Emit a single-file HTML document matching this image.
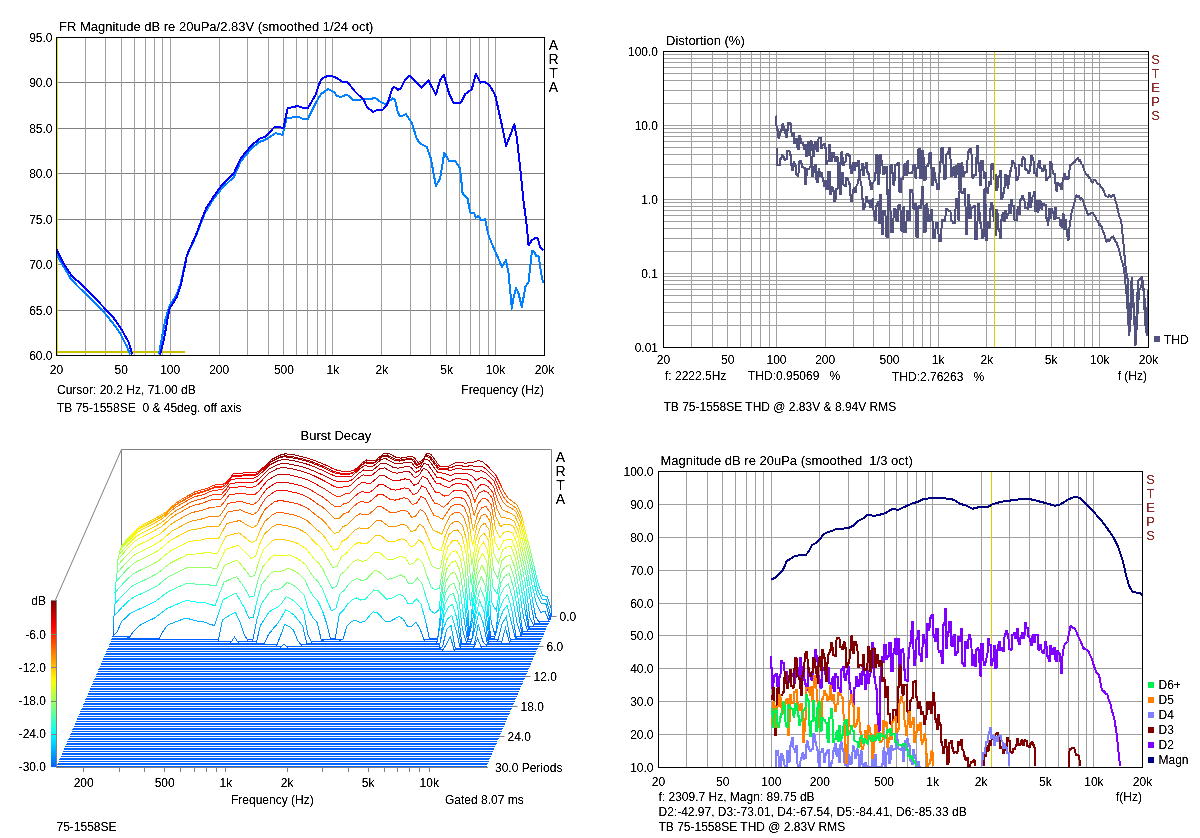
<!DOCTYPE html>
<html><head><meta charset="utf-8"><title>ARTA measurements</title>
<style>html,body{margin:0;padding:0;background:#fff;width:1200px;height:838px;overflow:hidden}svg{display:block}</style>
</head><body>
<svg width="1200" height="838" viewBox="0 0 1200 838" font-family="Liberation Sans, Arial, sans-serif" font-size="12">
<defs><filter id="tb" filterUnits="userSpaceOnUse" x="0" y="0" width="1200" height="838"><feComponentTransfer><feFuncA type="linear" slope="2.2" intercept="-0.45"/></feComponentTransfer></filter></defs>
<rect width="1200" height="838" fill="#fff"/>
<path d="M57 82.5H544M57 128.5H544M57 173.5H544M57 219.5H544M57 264.5H544M57 310.5H544" stroke="#808080" fill="none"/>
<path d="M85.5 38V355M105.5 38V355M121.5 38V355M134.5 38V355M145.5 38V355M154.5 38V355M162.5 38V355M170.5 38V355M219.5 38V355M247.5 38V355M268.5 38V355M283.5 38V355M296.5 38V355M307.5 38V355M317.5 38V355M325.5 38V355M332.5 38V355M381.5 38V355M410.5 38V355M430.5 38V355M446.5 38V355M459.5 38V355M470.5 38V355M479.5 38V355M488.5 38V355M495.5 38V355" stroke="#a0a0a0" fill="none"/>
<path d="M57.5 38V355" stroke="#e8e000"/>
<path d="M57 352H185" stroke="#c8c000" stroke-width="2"/>
<g fill="none" stroke-width="2" stroke-linejoin="round" shape-rendering="crispEdges">
<polyline points="56.4,254.3 63.6,266.5 70.7,278.6 77.9,286.5 89.3,297.3 102.2,310.1 112.2,322.3 120.1,333 126.6,345.9 130.1,354.5" stroke="#0080ff"/>
<polyline points="158.8,354.5 165.2,320.1 169.5,305.8 176,296 180.5,284 184.5,266 186.5,257 189,251 196,236 204.4,214 213.5,198.7 222.6,187.6 233.8,177 240.9,161.2 251,149 259.2,141.9 265.2,139.9 275.4,133.2 282.5,134.8 286.6,118.6 297.7,116.5 302.8,119 307.9,119 315,104.4 318,99 321,94 324,92 328,89 331,90.5 334,92 337,96 341,97 346,94.8 349,96 353,100.5 357,100 363,99.2 371,99 375,97.8 380,101.5 385,104 388,102.5 392.5,98.2 395,100 398,113 400,116 403,115.5 406,114 409,119 411.7,122.6 416.7,138.5 420,143.5 426.7,146.9 430.9,158.6 435.9,186.1 440.1,178.6 444.3,152.7 449.3,161.1 455.1,160.6 460.1,168.6 462.6,193.4 467.6,198.4 470.1,212.6 474.3,213.4 475.9,217.6 478.4,215.9 481,220.1 485.1,219.3 488.5,235.2 493.5,247.7 497.7,256.9 501.9,266.9 506,260.2 508.5,272.8 511.9,308.7 513.6,297 516.1,287.8 518.6,293.7 521.9,307 525.3,287 528.6,282 531.9,251 534.5,251.9 536.1,256.1 538.6,256.1 542,278.6 543.6,282.8" stroke="#0080ff"/>
<polyline points="56.4,249.3 63.6,263.6 72.2,276.5 80,282.9 92.2,295.1 103.7,307.3 112.2,315.9 121.5,329.4 128.7,342.3 132.3,354.5" stroke="#0000ff"/>
<polyline points="160.2,354.5 163.8,340.2 168.1,315.9 169.5,308.7 176.7,297.3 181,284.4 185.2,264.3 186.7,255.7 189.1,250.1 196.2,234.3 202.3,218 206.4,207.9 213.5,196.7 221.6,185.5 233.8,173.4 240.9,158.1 251,146 259.2,138.9 265.2,136.8 274.4,127.1 283.5,127.7 287.6,108.4 297.7,106 303.8,108 307.9,108 316,94.2 318,87 321,80 324,77.5 328,75.8 331,76 335,77 338,79 342,81.5 347,82 351,86.5 355,91.5 359,95.5 363,98.5 367,107 373,112 378,109.5 383,109.5 387,105 390,96 392.5,88 394.5,87 398,90 401,88 405,80 410,75.5 414.2,80 421.7,87.6 428.4,80.4 435.9,94.7 440.1,80 443.8,75 449.3,94.2 453.4,102.6 461,102.6 465.1,94.2 471.8,89.2 476,73.7 480.2,82.6 484.4,81.7 489.4,85.1 495.2,95.1 501.9,125.2 506.1,146 514.4,124.3 516.9,138.5 520.3,168.6 523.6,201.7 526.1,220.1 528.6,245.2 531.9,240.2 536.1,237.7 537.8,238.5 540.3,247.7 543.6,250.2" stroke="#0000ff"/>
</g>
<rect x="56.5" y="37.5" width="488" height="318" fill="none" stroke="#000"/>
<g filter="url(#tb)"><text x="59" y="31" font-size="13">FR Magnitude dB re 20uPa/2.83V (smoothed 1/24 oct)</text><text x="52.5" y="42" text-anchor="end">95.0</text><text x="52.5" y="87.4" text-anchor="end">90.0</text><text x="52.5" y="132.9" text-anchor="end">85.0</text><text x="52.5" y="178.3" text-anchor="end">80.0</text><text x="52.5" y="223.7" text-anchor="end">75.0</text><text x="52.5" y="269.1" text-anchor="end">70.0</text><text x="52.5" y="314.6" text-anchor="end">65.0</text><text x="52.5" y="360" text-anchor="end">60.0</text><text x="56.5" y="374" text-anchor="middle">20</text><text x="121.2" y="374" text-anchor="middle">50</text><text x="170.2" y="374" text-anchor="middle">100</text><text x="219.2" y="374" text-anchor="middle">200</text><text x="283.9" y="374" text-anchor="middle">500</text><text x="332.9" y="374" text-anchor="middle">1k</text><text x="381.8" y="374" text-anchor="middle">2k</text><text x="446.6" y="374" text-anchor="middle">5k</text><text x="495.5" y="374" text-anchor="middle">10k</text><text x="544.5" y="374" text-anchor="middle">20k</text><text x="57" y="394">Cursor: 20.2 Hz, 71.00 dB</text><text x="57" y="412">TB 75-1558SE  0 &amp; 45deg. off axis</text><text x="544" y="394" text-anchor="end">Frequency (Hz)</text><text x="553.5" y="49.8" text-anchor="middle" font-size="14">A</text><text x="553.5" y="63.8" text-anchor="middle" font-size="14">R</text><text x="553.5" y="77.8" text-anchor="middle" font-size="14">T</text><text x="553.5" y="91.8" text-anchor="middle" font-size="14">A</text></g>
<path d="M691.5 52V347M712.5 52V347M727.5 52V347M740.5 52V347M751.5 52V347M760.5 52V347M769.5 52V347M776.5 52V347M825.5 52V347M853.5 52V347M873.5 52V347M889.5 52V347M902.5 52V347M913.5 52V347M922.5 52V347M930.5 52V347M938.5 52V347M986.5 52V347M1015.5 52V347M1035.5 52V347M1051.5 52V347M1063.5 52V347M1074.5 52V347M1084.5 52V347M1092.5 52V347M1099.5 52V347M664 325.5H1148M664 312.5H1148M664 302.5H1148M664 295.5H1148M664 289.5H1148M664 284.5H1148M664 280.5H1148M664 276.5H1148M664 273.5H1148M664 251.5H1148M664 238.5H1148M664 228.5H1148M664 221.5H1148M664 215.5H1148M664 210.5H1148M664 206.5H1148M664 202.5H1148M664 199.5H1148M664 177.5H1148M664 164.5H1148M664 154.5H1148M664 147.5H1148M664 141.5H1148M664 136.5H1148M664 132.5H1148M664 128.5H1148M664 125.5H1148M664 103.5H1148M664 90.5H1148M664 80.5H1148M664 73.5H1148M664 67.5H1148M664 62.5H1148M664 58.5H1148M664 54.5H1148" stroke="#a0a0a0" fill="none"/>
<g fill="none" stroke="#52527f" stroke-width="2" stroke-linejoin="miter" stroke-miterlimit="2" shape-rendering="crispEdges">
<polyline points="775.9,149.4 776.7,149.4 777.2,165.1 778.4,165.1 779.2,165.1 780,165.1 780.5,158.6 781.3,158.6 781.8,155.4 782.6,155.4 783.1,157.3 783.9,157.3 784.5,160 785.3,160 785.8,158.6 786.6,158.6 787.1,151 787.9,151 788.4,151.3 789.5,151.3 790.3,154.6 790.7,154.6 791,165.1 791.8,165.1 792.3,170.4 793.1,170.4 793.6,161.6 794.4,161.6 794.9,166.4 795.7,166.4 796.2,173.5 797.1,173.5 797.6,176.3 798.4,176.3 798.9,161.5 799.7,161.5 800.2,160.5 801.2,160.5 801.9,167.2 802.8,167.2 803.5,167.8 804.6,167.8 805.4,184.2 806.2,184.2 806.8,169 807.6,169 808.1,169.1 809.1,169.1 809.7,167.3 810.7,167.3 811.3,157.3 811.7,157.3 812,175.6 812.8,175.6 813.3,172.2 814.1,172.2 814.6,165.1 815.8,165.1 816.6,182.2 817.8,182.2 818.6,169.1 819.4,169.1 819.9,175.6 820.7,175.6 821.2,172.9 822,172.9 822.5,178.3 823.3,178.3 823.8,186.4 824.6,186.4 825.1,180.9 825.9,180.9 826.4,188.8 827.6,188.8 828.4,171.7 829.6,171.7 830.4,194 831.2,194 831.7,187.4 832.5,187.4 833,191.4 833.8,191.4 834.3,200.6 835.5,200.6 836.3,188.8 837.5,188.8 838.3,162.5 839.4,162.5 840.2,194 841,194 841.5,173 842.7,173 843.5,184.8 844.3,184.8 844.8,185.5 845.6,185.5 846.1,178.3 846.9,178.3 847.5,178.9 848.3,178.9 848.8,183.5 849.6,183.5 850.1,195 850.9,195 851.4,200.6 852.2,200.6 852.7,189.7 853.5,189.7 854,187.5 854.8,187.5 855.3,191.5 856.1,191.5 856.6,184.8 857.4,184.8 857.9,180.2 858.7,180.2 859.3,176.5 860.1,176.5 860.6,181.5 861.4,181.5 861.9,199.3 862.7,199.3 863.2,208.5 864,208.5 864.5,207.1 865.3,207.1 865.8,197.3 866.6,197.3 867.1,201.9 867.9,201.9 868.5,201.1 869.3,201.1 869.8,207.1 870.6,207.1 871.1,200.8 871.9,200.8 872.4,199.3 873.2,199.3 873.7,216.1 874.5,216.1 875,220 875.8,220 876.3,206.2 877.1,206.2 877.6,201.9 878.4,201.9 879,223.4 879.6,223.4 880,194.5 881.2,194.5 882,234.3 882.9,234.3 883.5,211 885.3,211 886.5,236.5 887.7,236.5 888.5,189.6 890,189.6 891,231.5 892.8,231.5 894,208.9 895.5,208.9 896.5,220.8 897.7,220.8 898.5,205.4 900.3,205.4 901.5,231 902.7,231 903.5,207.1 904.1,207.1 904.5,232.2 906,232.2 907,211 908.2,211 909,219.8 909.9,219.8 910.5,189.6 912.3,189.6 913.5,209.2 914.4,209.2 915,204.2 915.9,204.2 916.5,236.5 917.7,236.5 918.5,206.3 919.4,206.3 920,207.5 921.2,207.5 922,187.3 923.2,187.3 924,232.1 925.5,232.1 926.5,204.1 927.4,204.1 928,221.4 929.8,221.4 931,209.8 932.2,209.8 933,238.1 934.8,238.1 936,223.4 937.8,223.4 939,240.5 940.8,240.5 942,219.6 943.2,219.6 944,220.6 945.2,220.6 946,209.1 947.5,209.1 948.5,210.5 950.3,210.5 951.5,220.5 952.4,220.5 953,222.6 954.8,222.6 956,198.9 956.9,198.9 957.5,205.4 958.1,205.4 958.5,219.6 959.1,219.6 959.5,191.9 961,191.9 962,192.7 963.2,192.7 964,188.5 965.2,188.5 966,234.4 967.2,234.4 968,194.9 969.2,194.9 970,217.5 970.6,217.5 971,208 972.5,208 973.5,206.2 974.7,206.2 975.5,239.2 977,239.2 978,203.8 979.2,203.8 980,223.1 981.2,223.1 982,238.1 983.5,238.1 984.5,189.3 984.8,189.3 985,205.2 985.8,205.2 986.3,240.3 987,240.3 987.5,222.2 988.3,222.2 988.8,228.4 989.5,228.4 990,208.5 990.8,208.5 991.3,202.7 992.4,202.7 993.1,215.7 994.3,215.7 995,235.3 995.8,235.3 996.3,210.2 997.4,210.2 998.1,229.1 999.3,229.1 1000,237.8 1000.8,237.8 1001.3,219.9 1002.1,219.9 1002.6,212.7 1003.4,212.7 1003.9,221.1 1004.6,221.1 1005.1,210.5 1005.9,210.5 1006.4,218.3 1007.1,218.3 1007.6,215.2 1008.4,215.2 1008.9,204.7 1009.6,204.7 1010.1,213.4 1010.9,213.4 1011.4,199.7 1012.1,199.7 1012.6,206.4 1013.7,206.4 1014.5,219.6 1015.6,219.6 1016.3,220.2 1017.1,220.2 1017.6,207 1018.3,207 1018.8,213.6 1019.6,213.6 1020.1,200.2 1021.1,200.2 1021.8,196.2 1022.8,196.2 1023.4,199.2 1024.4,199.2 1025.1,207.7 1025.8,207.7 1026.3,208.1 1027.1,208.1 1027.6,209.3 1028.3,209.3 1028.8,193.4 1029.6,193.4 1030.1,207.2 1030.8,207.2 1031.3,202.1 1032.1,202.1 1032.6,196.4 1033.4,196.4 1033.9,192.1 1034.6,192.1 1035.2,211.3 1035.9,211.3 1036.4,201 1037.2,201 1037.7,211.5 1038.5,211.5 1039,201 1039.7,201 1040.2,202.3 1041,202.3 1041.5,208.7 1042.2,208.7 1042.7,203.9 1043.8,203.9 1044.6,205.3 1045.7,205.3 1046.4,217.7 1047.2,217.7 1047.7,225 1048.4,225 1048.9,208.9 1049.7,208.9 1050.2,218.3 1050.9,218.3 1051.4,209.4 1052.2,209.4 1052.7,212.7 1053.5,212.7 1054,219.2 1054.7,219.2 1055.2,208.2 1056,208.2 1056.5,217.7 1057.6,217.7 1058.3,218.4 1059.5,218.4 1060.2,225.3 1061,225.3 1061.5,227 1062.2,227 1062.7,213.9 1063.5,213.9 1064,228.8 1064.7,228.8 1065.2,220.2 1066,220.2 1066.5,229.9 1067.2,229.9 1067.7,240.3 1068.5,240.3 1069,230.4 1070.2,222.7 1071.5,212.7 1072.8,207.5 1074,204.8 1075.2,198.9 1076.5,195.2 1077.8,196.6 1079,196.3 1080.3,199.5 1081.5,198.1 1082.8,200.2 1084,203.6 1085.3,208.2 1086.5,210.5 1087.8,215.2 1089,213.9 1090.3,213.6 1091.5,212.8 1092.8,212.7 1094.1,214.9 1095.3,216.5 1096.6,220.2 1097.8,220.8 1099.1,224.8 1100.3,224.5 1101.6,226.5 1102.8,231.2 1104.1,233.6 1105.3,238.8 1106.6,241.6 1107.9,240.1 1109.1,240.7 1110.4,239.4 1111.6,236.8 1112.9,236.5 1114.8,240.2 1116.6,242.8 1117.9,246.5 1119.1,250 1120.4,255.3 1121.7,260.7 1122.9,264.5 1124.2,270.4 1125.5,284.4 1126.7,295.5 1128,316.5 1129.2,335.6 1131.1,313.6 1132.9,290.5 1134.2,317.1 1135.5,345.6 1137.3,317 1139.2,290.5 1140.5,288.2 1141.7,285 1143,280.4 1144.2,304.5 1145.5,325.6 1146.8,327.4 1148,330.6"/>
<polyline points="775.9,115.9 776.3,115.9 776.6,129.7 777.7,129.7 778.5,138.2 779.3,138.2 779.8,132.3 780.6,132.3 781.2,129.7 782,129.7 782.5,124.1 783.3,124.1 783.8,129.7 785,129.7 785.8,136.9 786.6,136.9 787.1,129.7 787.9,129.7 788.4,122.5 789.5,122.5 790.3,124.4 791.1,124.4 791.7,136.3 792.5,136.3 793,132.9 793.8,132.9 794.3,142.8 795.3,142.8 796,139.2 796.9,139.2 797.6,148.7 798.7,148.7 799.5,135.6 800.3,135.6 800.9,143.2 801.7,143.2 802.2,142.8 803.2,142.8 803.8,148.8 804.8,148.8 805.4,144.8 805.8,144.8 806.1,155.9 807.3,155.9 808.1,142.2 808.9,142.2 809.4,155.3 810.2,155.3 810.7,140.8 811.5,140.8 812,150.4 812.8,150.4 813.3,155.9 814.1,155.9 814.6,141.5 815.8,141.5 816.6,150.7 817.8,150.7 818.6,138.2 819.4,138.2 819.9,137.8 820.7,137.8 821.2,147.6 822,147.6 822.5,145.4 823.3,145.4 823.8,144.1 824.6,144.1 825.1,148.1 825.9,148.1 826.4,163.8 827.2,163.8 827.8,161.1 828.6,161.1 829.1,145.4 830.2,145.4 831,161.2 832.2,161.2 833,153.3 834.2,153.3 835,161.2 835.8,161.2 836.3,156.6 837.5,156.6 838.3,171.7 839.3,171.7 839.9,164.1 840.9,164.1 841.5,152 842.3,152 842.9,165.1 843.9,165.1 844.5,162.4 845.5,162.4 846.1,155.3 846.9,155.3 847.5,153.5 848.3,153.5 848.8,155.9 849.9,155.9 850.7,173 851.9,173 852.7,162.5 853.5,162.5 854,170.1 854.8,170.1 855.3,162.5 856.1,162.5 856.6,166.4 857.4,166.4 857.9,161.4 858.7,161.4 859.3,175.9 860.1,175.9 860.6,170.4 861.4,170.4 861.9,164.3 862.7,164.3 863.2,175.3 864,175.3 864.5,167.8 865.3,167.8 865.8,162.9 866.6,162.9 867.1,171.7 867.9,171.7 868.4,174.3 869.2,174.3 869.8,185.4 870.6,185.4 871.1,188.8 871.9,188.8 872.4,183.1 873.2,183.1 873.7,180.9 874.5,180.9 875,172.5 875.8,172.5 876.3,154.6 877.5,154.6 878.3,183.5 879.3,183.5 880,154.6 880.6,154.6 881,160.7 882.2,160.7 883,173.6 884.5,173.6 885.5,166.5 886.7,166.5 887.5,193.8 889.3,193.8 890.5,164.8 891.7,164.8 892.5,173.3 893.1,173.3 893.5,184.7 894.4,184.7 895,165.4 896.5,165.4 897.5,162.9 898.7,162.9 899.5,192 900.7,192 901.5,178.6 903.3,178.6 904.5,163.9 905.1,163.9 905.5,175.2 906.7,175.2 907.5,161.3 908.1,161.3 908.5,172.5 909.7,172.5 910.5,172.6 912.3,172.6 913.5,165.3 914.7,165.3 915.5,178 916.1,178 916.5,167.8 917.7,167.8 918.5,149.2 919.7,149.2 920.5,178.1 921.7,178.1 922.5,150.8 923.4,150.8 924,179.7 925.5,179.7 926.5,166.3 927.7,166.3 928.5,163.4 929.1,163.4 929.5,152.7 931,152.7 932,185.2 932.6,185.2 933,167.8 934.2,167.8 935,179.6 936.2,179.6 937,188.8 938.8,188.8 940,161.5 940.9,161.5 941.5,148.3 943,148.3 944,179 945.5,179 946.5,154.4 948,154.4 949,147.5 950.2,147.5 951,175.9 952.5,175.9 953.5,167.4 954.4,167.4 955,176.9 955.6,176.9 956,166.3 956.6,166.3 957,174 957.6,174 958,163.5 958.9,163.5 959.5,189.6 960.7,189.6 961.5,163.4 962.4,163.4 963,175.8 964.2,175.8 965,172.2 966.8,172.2 968,152.1 968.9,152.1 969.5,149.3 971.3,149.3 972.5,177.8 973.4,177.8 974,174.8 975.8,174.8 977,145.7 977.6,145.7 978,163 979.2,163 980,185.1 980.6,185.1 981,161.1 982.8,161.1 984,177.5 984.6,177.5 985,172.6 985.8,172.6 986.2,189.5 987,189.5 987.5,192.7 988.2,192.7 988.8,182.2 989.5,182.2 990,184.1 990.8,184.1 991.2,164.6 992,164.6 992.5,163.8 993.3,163.8 993.8,179.1 994.5,179.1 995,174.7 995.8,174.7 996.3,190.2 997.4,190.2 998.1,176.5 999.3,176.5 1000,171.3 1000.8,171.3 1001.3,198.9 1002.4,198.9 1003.1,193 1004.3,193 1005,175.1 1005.8,175.1 1006.3,176.2 1007.1,176.2 1007.6,187.6 1008.4,187.6 1008.9,176.2 1009.6,176.2 1010.1,171.3 1011.2,171.3 1012,161 1013.1,161 1013.8,162.6 1014.5,162.6 1015,167.6 1015.8,167.6 1016.3,180.1 1017.1,180.1 1017.6,179.3 1018.4,179.3 1018.9,165.1 1020,165.1 1020.8,165.5 1021.9,165.5 1022.6,157.1 1023.4,157.1 1023.9,158.6 1024.6,158.6 1025.1,169.2 1025.9,169.2 1026.4,170.1 1027.5,170.1 1028.2,173 1029.4,173 1030.1,165.1 1030.8,165.1 1031.3,155.6 1032.1,155.6 1032.6,157.6 1033.4,157.6 1033.9,172.7 1034.7,172.7 1035.2,172.6 1036,172.6 1036.5,176.2 1037.2,176.2 1037.7,164 1038.5,164 1039,161 1039.7,161 1040.2,167.6 1041.3,167.6 1042.1,170.9 1043.2,170.9 1043.9,166.3 1044.7,166.3 1045.2,169.7 1045.9,169.7 1046.4,180.1 1047.2,180.1 1047.7,178.2 1048.4,178.2 1048.9,176.9 1049.7,176.9 1050.2,162 1050.9,162 1051.4,163.8 1052.2,163.8 1052.7,172.9 1053.4,172.9 1053.9,173.8 1054.7,173.8 1055.2,182.6 1056,182.6 1056.5,190.7 1057.2,190.7 1057.7,182.8 1058.5,182.8 1059,183.7 1059.7,183.7 1060.2,186.4 1061,186.4 1061.5,189.4 1062.2,189.4 1062.7,177.6 1063.5,177.6 1064,174.4 1064.7,174.4 1065.2,179 1066,179 1066.5,177.1 1067.2,177.1 1067.7,178.9 1068.5,178.9 1069,172.8 1070.3,165.1 1071.8,164.3 1073.4,162.5 1075,161.7 1076.5,158.8 1077.8,157.9 1079,161 1080.3,160.1 1081.5,164.1 1082.8,165.2 1084,169.9 1085.3,172.6 1086.5,174.9 1087.8,174.7 1089,177.9 1090.3,178.3 1091.5,181.5 1092.8,182.6 1094,179.9 1095.3,180.1 1096.6,182.4 1097.8,184.1 1099.1,183.7 1100.3,186.6 1101.6,187.6 1102.8,189.1 1104.1,191.3 1105.3,195.7 1106.6,196.4 1107.8,197 1109.1,195.3 1110.3,196.7 1111.6,197 1112.8,195.1 1114.1,195.2 1115.4,200.6 1116.6,204 1117.9,210.2 1119.2,216.4 1120.4,218.8 1121.7,225.3 1123.6,245 1125.4,265.4 1126.7,274.3 1127.9,280.4 1129.2,330.6 1130.5,302.8 1131.7,276.7 1133,296.7 1134.2,320.2 1135.5,340.6 1136.8,309.8 1138,280.4 1139.8,279.6 1141.7,276.7 1143,284.4 1144.2,293 1145.5,314.7 1146.7,335.6 1148,290.5"/>
</g>
<path d="M994.5 52V347" stroke="#d8d000"/>
<rect x="663.5" y="51.5" width="485" height="296" fill="none" stroke="#000"/>
<rect x="1154" y="336" width="6" height="6" fill="#52527f"/>
<g filter="url(#tb)"><text x="666" y="45" font-size="13">Distortion (%)</text><text x="658" y="56" text-anchor="end">100.0</text><text x="658" y="130" text-anchor="end">10.0</text><text x="658" y="204" text-anchor="end">1.0</text><text x="658" y="278" text-anchor="end">0.1</text><text x="658" y="352" text-anchor="end">0.01</text><text x="663.5" y="364" text-anchor="middle">20</text><text x="727.8" y="364" text-anchor="middle">50</text><text x="776.5" y="364" text-anchor="middle">100</text><text x="825.2" y="364" text-anchor="middle">200</text><text x="889.5" y="364" text-anchor="middle">500</text><text x="938.2" y="364" text-anchor="middle">1k</text><text x="986.8" y="364" text-anchor="middle">2k</text><text x="1051.2" y="364" text-anchor="middle">5k</text><text x="1099.8" y="364" text-anchor="middle">10k</text><text x="1148.5" y="364" text-anchor="middle">20k</text><text x="665" y="380">f: 2222.5Hz</text><text x="748" y="380">THD:0.95069   %</text><text x="892" y="381">THD:2.76263   %</text><text x="1147" y="380" text-anchor="end">f (Hz)</text><text x="663.5" y="411">TB 75-1558SE THD @ 2.83V &amp; 8.94V RMS</text><text x="1164" y="344">THD</text><text x="1155.5" y="64" text-anchor="middle" fill="#8b2c2c" font-size="13">S</text><text x="1155.5" y="78" text-anchor="middle" fill="#8b2c2c" font-size="13">T</text><text x="1155.5" y="92" text-anchor="middle" fill="#8b2c2c" font-size="13">E</text><text x="1155.5" y="106" text-anchor="middle" fill="#8b2c2c" font-size="13">P</text><text x="1155.5" y="120" text-anchor="middle" fill="#8b2c2c" font-size="13">S</text></g>
<defs><linearGradient id="wg" gradientUnits="userSpaceOnUse" x1="0" y1="616" x2="0" y2="450.1"><stop offset="0.0000" stop-color="#0061ff"/><stop offset="0.0333" stop-color="#007bff"/><stop offset="0.0667" stop-color="#0096ff"/><stop offset="0.1000" stop-color="#00b0ff"/><stop offset="0.1333" stop-color="#00cbff"/><stop offset="0.1667" stop-color="#00e5ff"/><stop offset="0.2000" stop-color="#01fffe"/><stop offset="0.2333" stop-color="#1cffe3"/><stop offset="0.2667" stop-color="#36ffc9"/><stop offset="0.3000" stop-color="#51ffae"/><stop offset="0.3333" stop-color="#6bff94"/><stop offset="0.3667" stop-color="#86ff79"/><stop offset="0.4000" stop-color="#a0ff5f"/><stop offset="0.4333" stop-color="#bbff44"/><stop offset="0.4667" stop-color="#d5ff2a"/><stop offset="0.5000" stop-color="#f0ff0f"/><stop offset="0.5333" stop-color="#fff400"/><stop offset="0.5667" stop-color="#ffd900"/><stop offset="0.6000" stop-color="#ffbf00"/><stop offset="0.6333" stop-color="#ffa400"/><stop offset="0.6667" stop-color="#ff8a00"/><stop offset="0.7000" stop-color="#ff6f00"/><stop offset="0.7333" stop-color="#ff5500"/><stop offset="0.7667" stop-color="#ff3a00"/><stop offset="0.8000" stop-color="#ff2000"/><stop offset="0.8333" stop-color="#ff0500"/><stop offset="0.8667" stop-color="#ea0000"/><stop offset="0.9000" stop-color="#cf0000"/><stop offset="0.9333" stop-color="#b50000"/><stop offset="0.9667" stop-color="#9a0000"/><stop offset="1.0000" stop-color="#800000"/></linearGradient><linearGradient id="g0" href="#wg" gradientTransform="translate(0 0)"/><linearGradient id="g1" href="#wg" gradientTransform="translate(0 2)"/><linearGradient id="g2" href="#wg" gradientTransform="translate(0 3)"/><linearGradient id="g3" href="#wg" gradientTransform="translate(0 5)"/><linearGradient id="g4" href="#wg" gradientTransform="translate(0 7)"/><linearGradient id="g5" href="#wg" gradientTransform="translate(0 8)"/><linearGradient id="g6" href="#wg" gradientTransform="translate(0 10)"/><linearGradient id="g7" href="#wg" gradientTransform="translate(0 12)"/><linearGradient id="g8" href="#wg" gradientTransform="translate(0 13)"/><linearGradient id="g9" href="#wg" gradientTransform="translate(0 15)"/><linearGradient id="g10" href="#wg" gradientTransform="translate(0 17)"/><linearGradient id="g11" href="#wg" gradientTransform="translate(0 18)"/><linearGradient id="g12" href="#wg" gradientTransform="translate(0 20)"/><linearGradient id="g13" href="#wg" gradientTransform="translate(0 22)"/><linearGradient id="g14" href="#wg" gradientTransform="translate(0 23)"/><linearGradient id="g15" href="#wg" gradientTransform="translate(0 25)"/><linearGradient id="g16" href="#wg" gradientTransform="translate(0 27)"/><linearGradient id="g17" href="#wg" gradientTransform="translate(0 28)"/><linearGradient id="g18" href="#wg" gradientTransform="translate(0 30)"/><linearGradient id="g19" href="#wg" gradientTransform="translate(0 32)"/><linearGradient id="g20" href="#wg" gradientTransform="translate(0 33)"/><linearGradient id="g21" href="#wg" gradientTransform="translate(0 35)"/></defs>
<path d="M121.5 546V449.5H551.5V617M121.5 449.5L55 601" stroke="#808080" fill="none"/>
<g fill="#fff" stroke-width="1" shape-rendering="crispEdges"><polygon points="121.5,616.5 121.5,546 125.8,540.9 130.1,535.9 134.4,531.6 138.7,527.3 143,524.5 147.3,522.4 151.6,520.2 155.9,518 160.2,515.5 164.5,513.1 168.8,509.5 173.1,505.5 177.4,502 181.7,499.4 186,496.9 190.3,494.5 194.6,492 198.9,490.6 203.2,489.5 207.5,488.1 211.8,486.2 216.1,484.7 220.4,484.3 224.7,483.9 229,479.4 233.3,473.8 237.6,473.4 241.9,473.1 246.2,472.8 250.5,472.8 254.8,472.8 259.1,471.1 263.4,467.3 267.7,463.3 272,459.3 276.3,457.1 280.6,455 284.9,453.9 289.2,454.1 293.5,454.7 297.8,455.7 302.1,456.7 306.4,457.8 310.7,459.1 315,460.7 319.3,462.4 323.6,464.2 327.9,466.1 332.2,468.3 336.5,470 340.8,471 345.1,471.2 349.4,471.1 353.7,470.9 358,466.8 362.3,462.9 366.6,459.9 370.9,460.6 375.2,460.4 379.5,457.1 383.8,453.6 388.1,453 392.4,455.4 396.7,457.6 401,458.1 405.3,457.3 409.6,456.3 413.9,457.2 418.2,462.6 422.5,460.3 426.8,453.1 431.1,454.5 435.4,460.5 439.7,466.3 444,467 448.3,466.2 452.6,464.1 456.9,462.1 461.2,462.2 465.5,463.3 469.8,462.4 474.1,462 478.4,460.6 482.7,461.9 487,465.5 491.3,470.1 495.6,474.6 499.9,483.2 504.2,492.4 508.5,498.6 512.8,501.6 517.1,505 521.4,514.5 525.7,533 530,548.9 534.3,567.6 538.6,585.4 542.9,595.8 547.2,596.2 551.5,609.7 551.5,616.5" stroke="url(#g0)"/><polygon points="120.8,618.5 120.8,548 125.1,542.9 129.4,537.9 133.7,533.6 138,529.3 142.3,526.5 146.6,524.4 150.9,522.2 155.2,520 159.5,517.5 163.8,515.1 168.1,511.5 172.4,507.5 176.7,504 181,501.4 185.3,498.9 189.6,496.5 193.9,494 198.2,492.6 202.5,491.5 206.8,490.1 211.1,488.2 215.4,486.7 219.7,486.3 224,485.9 228.3,481.4 232.6,475.8 236.9,475.4 241.2,475.1 245.5,474.8 249.8,474.8 254.1,474.8 258.4,473.1 262.7,469.3 267,465.3 271.3,461.3 275.6,459.1 279.9,457 284.2,455.9 288.5,456.1 292.8,456.7 297.1,457.7 301.4,458.7 305.7,459.8 310,461.1 314.3,462.7 318.6,464.4 322.9,466.2 327.2,468.1 331.5,470.3 335.8,472 340.1,473 344.4,473.2 348.7,473.1 353,472.9 357.3,468.8 361.6,464.9 365.9,461.9 370.2,462.6 374.5,462.4 378.8,459.1 383.1,455.6 387.4,455 391.7,457.4 396,459.6 400.3,460.1 404.6,459.3 408.9,458.3 413.2,459.2 417.5,464.6 421.8,462.3 426.1,455.1 430.4,456.5 434.7,462.5 439,468.3 443.3,469 447.6,468.2 451.9,467.3 456.2,465.5 460.5,465.5 464.8,466.6 469.1,465.9 473.4,466 477.7,466 482,466.2 486.3,469.3 490.6,473.5 494.9,478.1 499.2,487.9 503.5,497 507.8,502.4 512.1,505.1 516.4,508.4 520.7,518 525,536.6 529.3,552.9 533.6,572.4 537.9,590.3 542.2,599.7 546.5,600 550.8,615.9 550.8,618.5" stroke="url(#g1)"/><polygon points="120.1,619.5 120.1,549 124.4,543.9 128.7,538.9 133,534.6 137.3,530.3 141.6,527.5 145.9,525.4 150.2,523.2 154.5,521 158.8,518.5 163.1,516.1 167.4,512.5 171.7,508.5 176,505 180.3,502.4 184.6,499.9 188.9,497.5 193.2,495 197.5,493.6 201.8,492.5 206.1,491.1 210.4,489.2 214.7,487.7 219,487.3 223.3,486.9 227.6,482.4 231.9,476.8 236.2,476.4 240.5,476.1 244.8,475.8 249.1,475.8 253.4,475.8 257.7,474.1 262,470.3 266.3,466.3 270.6,462.3 274.9,460.1 279.2,458 283.5,456.9 287.8,457.1 292.1,457.7 296.4,458.7 300.7,459.7 305,460.8 309.3,462.1 313.6,463.7 317.9,465.4 322.2,467.2 326.5,469.1 330.8,471.3 335.1,473 339.4,474 343.7,474.2 348,474.1 352.3,473.9 356.6,469.8 360.9,465.9 365.2,462.9 369.5,463.6 373.8,463.4 378.1,460.1 382.4,456.6 386.7,456 391,458.4 395.3,460.6 399.6,461.1 403.9,460.3 408.2,459.3 412.5,460.2 416.8,465.6 421.1,463.3 425.4,456.1 429.7,457.5 434,463.5 438.3,469.3 442.6,470 446.9,469.7 451.2,470.5 455.5,468.7 459.8,468.5 464.1,469.5 468.4,469.1 472.7,469.9 477,472 481.3,470.7 485.6,472.8 489.9,476.7 494.2,481.4 498.5,493 502.8,502 507.1,506 511.4,508.3 515.7,511.4 520,521.2 524.3,540 528.6,556.9 532.9,577.6 537.2,595.7 541.5,603.6 545.8,603.7 550.1,619.5 550.1,619.5" stroke="url(#g2)"/><polygon points="119.3,621.5 119.3,551.5 123.6,546.4 127.9,541.5 132.2,537.2 136.5,532.9 140.8,530.1 145.1,527.9 149.4,525.8 153.7,523.6 158,521.1 162.3,518.6 166.6,515 170.9,511.1 175.2,507.6 179.5,505 183.8,502.5 188.1,500.1 192.4,497.6 196.7,496.2 201,495.2 205.3,493.8 209.6,491.9 213.9,490.4 218.2,490 222.5,489.6 226.8,485.1 231.1,479.4 235.4,479 239.7,478.6 244,478.4 248.3,478.4 252.6,478.5 256.9,476.8 261.2,473.1 265.5,469 269.8,464.9 274.1,462.7 278.4,460.6 282.7,459.5 287,459.7 291.3,460.3 295.6,461.2 299.9,462.3 304.2,463.3 308.5,464.6 312.8,466.3 317.1,468 321.4,469.9 325.7,471.8 330,474 334.3,475.8 338.6,476.8 342.9,477 347.2,476.8 351.5,476.6 355.8,472.5 360.1,468.6 364.4,465.6 368.7,466.3 373,466.1 377.3,462.8 381.6,459.2 385.9,458.7 390.2,461.1 394.5,463.2 398.8,463.8 403.1,463 407.4,462 411.7,462.9 416,468.3 420.3,466.1 424.6,458.8 428.9,460.2 433.2,466.3 437.5,472.2 441.8,472.9 446.1,473.9 450.4,475.6 454.7,473.6 459,473.2 463.3,474 467.6,473.9 471.9,475.8 476.2,480.7 480.5,477.4 484.8,478.3 489.1,481.5 493.4,486.4 497.7,500.3 502,509.3 506.3,511.5 510.6,513.3 514.9,516 519.2,526 523.5,545.1 527.8,562.9 532.1,585.1 536.4,603.5 540.7,612.2 545,611.4 549.3,621.5 549.3,621.5" stroke="url(#g3)"/><polygon points="118.6,623.5 118.6,555.4 122.9,550.3 127.2,545.4 131.5,541.1 135.8,536.8 140.1,534 144.4,531.8 148.7,529.7 153,527.5 157.3,525.1 161.6,522.6 165.9,519 170.2,515 174.5,511.6 178.8,509.1 183.1,506.6 187.4,504.1 191.7,501.7 196,500.3 200.3,499.3 204.6,498 208.9,496.1 213.2,494.7 217.5,494.3 221.8,494 226.1,489.3 230.4,483.4 234.7,483 239,482.6 243.3,482.3 247.6,482.5 251.9,482.7 256.2,481.3 260.5,477.6 264.8,473.2 269.1,468.9 273.4,466.7 277.7,464.5 282,463.4 286.3,463.5 290.6,464.2 294.9,465.1 299.2,466.1 303.5,467.2 307.8,468.6 312.1,470.3 316.4,472.1 320.7,474.1 325,476 329.3,478.3 333.6,480.4 337.9,481.6 342.2,481.8 346.5,481.2 350.8,480.9 355.1,476.7 359.4,472.9 363.7,469.9 368,470.6 372.3,470.4 376.6,467.1 380.9,463.5 385.2,463 389.5,465.4 393.8,467.6 398.1,468.2 402.4,467.3 406.7,466.3 411,467.2 415.3,472.6 419.6,470.5 423.9,463.3 428.2,464.8 432.5,471 436.8,477.1 441.1,477.8 445.4,479.9 449.7,481.6 454,479.1 458.3,478.5 462.6,479.2 466.9,479.5 471.2,482.6 475.5,490.9 479.8,485.1 484.1,484.5 488.4,487 492.7,492.2 497,508.9 501.3,517.8 505.6,517.8 509.9,519 514.2,521.3 518.5,531.6 522.8,551 527.1,569.9 531.4,594 535.7,617.2 540,623.5 544.3,623.5 548.6,623.5 548.6,623.5" stroke="url(#g4)"/><polygon points="117.9,624.5 117.9,559.6 122.2,554.5 126.5,549.6 130.8,545.3 135.1,541 139.4,538.3 143.7,536.1 148,534 152.3,531.8 156.6,529.4 160.9,527 165.2,523.4 169.5,519.4 173.8,516 178.1,513.5 182.4,511 186.7,508.6 191,506.2 195.3,504.9 199.6,504 203.9,502.7 208.2,500.9 212.5,499.6 216.8,499.3 221.1,499 225.4,494 229.7,487.9 234,487.5 238.3,487 242.6,486.6 246.9,487.1 251.2,487.5 255.5,486.5 259.8,482.9 264.1,478 268.4,473.4 272.7,471.1 277,468.7 281.3,467.6 285.6,467.8 289.9,468.4 294.2,469.3 298.5,470.3 302.8,471.5 307.1,472.9 311.4,474.6 315.7,476.6 320,478.8 324.3,480.8 328.6,483.4 332.9,485.8 337.2,487.4 341.5,487.4 345.8,486.3 350.1,485.9 354.4,481.6 358.7,477.7 363,474.8 367.3,475.6 371.6,475.4 375.9,472 380.2,468.4 384.5,467.9 388.8,470.4 393.1,472.6 397.4,473.2 401.7,472.3 406,471.2 410.3,472.2 414.6,477.7 418.9,475.5 423.2,468.4 427.5,470.1 431.8,476.7 436.1,483 440.4,483.9 444.7,486.6 449,487.5 453.3,484.4 457.6,483.4 461.9,484 466.2,484.8 470.5,489.3 474.8,501.9 479.1,493 483.4,490.6 487.7,492.3 492,497.6 496.3,517.9 500.6,526.6 504.9,524 509.2,524.4 513.5,526.2 517.8,536.9 522.1,556.6 526.4,576.8 530.7,603.3 535,624.5 539.3,624.5 543.6,624.5 547.9,624.5 547.9,624.5" stroke="url(#g5)"/><polygon points="117.2,626.5 117.2,566.1 121.5,561.1 125.8,556.2 130.1,551.9 134.4,547.7 138.7,544.9 143,542.8 147.3,540.7 151.6,538.5 155.9,536.1 160.2,533.7 164.5,530.1 168.8,526.2 173.1,522.8 177.4,520.4 181.7,517.9 186,515.6 190.3,513.2 194.6,512 198.9,511.1 203.2,510 207.5,508.3 211.8,507.1 216.1,507 220.4,506.7 224.7,501.3 229,494.9 233.3,494.3 237.6,493.7 241.9,493.3 246.2,494.1 250.5,495 254.8,494.5 259.1,491 263.4,485.4 267.7,480.3 272,477.8 276.3,475.3 280.6,474.1 284.9,474.3 289.2,474.9 293.5,475.8 297.8,476.9 302.1,478 306.4,479.5 310.7,481.3 315,483.6 319.3,486 323.6,488.2 327.9,491.1 332.2,494 336.5,496.1 340.8,496.1 345.1,494 349.4,493.4 353.7,489.1 358,485.2 362.3,482.3 366.6,483.2 370.9,483 375.2,479.5 379.5,475.8 383.8,475.4 388.1,478 392.4,480.4 396.7,480.8 401,479.9 405.3,478.8 409.6,479.8 413.9,485.3 418.2,483.3 422.5,476.3 426.8,478.2 431.1,485.2 435.4,492 439.7,493 444,496.1 448.3,495.4 452.6,491.3 456.9,490 461.2,490.4 465.5,491.8 469.8,498 474.1,515.4 478.4,503.1 482.7,498.5 487,499.2 491.3,504.9 495.6,529.1 499.9,537.8 504.2,532.1 508.5,531.5 512.8,532.8 517.1,543.9 521.4,564 525.7,585.7 530,618.1 534.3,626.5 538.6,626.5 542.9,626.5 547.2,626.5 547.2,626.5" stroke="url(#g6)"/><polygon points="116.4,628.5 116.4,574 120.7,569 125,564.1 129.3,559.9 133.6,555.6 137.9,552.9 142.2,550.8 146.5,548.7 150.8,546.6 155.1,544.2 159.4,541.8 163.7,538.3 168,534.4 172.3,531 176.6,528.6 180.9,526.3 185.2,523.9 189.5,521.6 193.8,520.5 198.1,519.8 202.4,518.8 206.7,517.3 211,516.3 215.3,516.3 219.6,516 223.9,510.1 228.2,503.3 232.5,502.6 236.8,501.9 241.1,501.4 245.4,502.7 249.7,504 254,504.2 258.3,500.9 262.6,494.3 266.9,488.7 271.2,485.9 275.5,483.2 279.8,482 284.1,482.1 288.4,482.8 292.7,483.7 297,484.7 301.3,485.9 305.6,487.5 309.9,489.5 314.2,492.1 318.5,494.8 322.8,497.2 327.1,500.5 331.4,504.1 335.7,506.9 340,506.6 344.3,503.5 348.6,502.7 352.9,498.2 357.2,494.3 361.5,491.5 365.8,492.4 370.1,492.2 374.4,488.6 378.7,484.9 383,484.5 387.3,487.2 391.6,489.7 395.9,490.1 400.2,489.1 404.5,487.9 408.8,489 413.1,494.7 417.4,492.8 421.7,486 426,488.1 430.3,495.7 434.6,503.1 438.9,504.2 443.2,507.4 447.5,504.1 451.8,499 456.1,497.2 460.4,497.5 464.7,499.5 469,507.7 473.3,530.6 477.6,514.3 481.9,507.2 486.2,506.8 490.5,512.8 494.8,541.7 499.1,550.2 503.4,541 507.7,539.4 512,540 516.3,551.6 520.6,572.2 524.9,595.5 529.2,628.5 533.5,628.5 537.8,628.5 542.1,628.5 546.4,628.5 546.4,628.5" stroke="url(#g7)"/><polygon points="115.7,629.5 115.7,582.2 120,577.2 124.3,572.3 128.6,568.1 132.9,563.9 137.2,561.2 141.5,559.2 145.8,557.2 150.1,555 154.4,552.7 158.7,550.3 163,546.8 167.3,543 171.6,539.7 175.9,537.4 180.2,535 184.5,532.8 188.8,530.5 193.1,529.6 197.4,529 201.7,528.2 206,526.9 210.3,526 214.6,526.3 218.9,526.1 223.2,519.5 227.5,512.2 231.8,511.3 236.1,510.5 240.4,509.8 244.7,511.7 249,513.6 253.3,514.7 257.6,511.6 261.9,503.9 266.2,497.5 270.5,494.5 274.8,491.5 279.1,490.1 283.4,490.3 287.7,491 292,491.9 296.3,492.9 300.6,494.1 304.9,495.9 309.2,498 313.5,501.1 317.8,504.2 322.1,506.7 326.4,510.5 330.7,514.9 335,518.6 339.3,518.1 343.6,513.7 347.9,512.5 352.2,507.9 356.5,504 360.8,501.3 365.1,502.3 369.4,502 373.7,498.4 378,494.5 382.3,494.2 386.6,497.1 390.9,499.8 395.2,500.1 399.5,499 403.8,497.7 408.1,498.9 412.4,504.7 416.7,503 421,496.3 425.3,498.7 429.6,507.1 433.9,515.2 438.2,516.6 442.5,519.4 446.8,512.9 451.1,506.4 455.4,504.1 459.7,504.1 464,506.9 468.3,517.3 472.6,546.4 476.9,525.6 481.2,515.8 485.5,514.2 489.8,520.5 494.1,554.6 498.4,562.9 502.7,549.8 507,547 511.3,546.9 515.6,559 519.9,580.1 524.2,605.4 528.5,629.5 532.8,629.5 537.1,629.5 541.4,629.5 545.7,629.5 545.7,629.5" stroke="url(#g8)"/><polygon points="115,631.5 115,592.7 119.3,587.8 123.6,582.9 127.9,578.8 132.2,574.6 136.5,572 140.8,569.9 145.1,567.9 149.4,565.9 153.7,563.5 158,561.2 162.3,557.7 166.6,554 170.9,550.8 175.2,548.5 179.5,546.2 183.8,544 188.1,541.8 192.4,541.1 196.7,540.7 201,540.1 205.3,539 209.6,538.4 213.9,538.9 218.2,538.8 222.5,531.4 226.8,523.5 231.1,522.4 235.4,521.4 239.7,520.6 244,523.2 248.3,525.8 252.6,527.9 256.9,525.1 261.2,516 265.5,508.7 269.8,505.4 274.1,502.1 278.4,500.7 282.7,500.9 287,501.5 291.3,502.4 295.6,503.4 299.9,504.7 304.2,506.6 308.5,508.9 312.8,512.5 317.1,516 321.4,518.8 325.7,523.2 330,528.7 334.3,533.3 338.6,532.5 342.9,526.6 347.2,525 351.5,520.2 355.8,516.3 360.1,513.7 364.4,514.8 368.7,514.5 373,510.8 377.3,506.8 381.6,506.6 385.9,509.7 390.2,512.5 394.5,512.7 398.8,511.5 403.1,510.1 407.4,511.4 411.7,517.4 416,515.8 420.3,509.4 424.6,512.2 428.9,521.4 433.2,530.3 437.5,532 441.8,534.2 446.1,523.5 450.4,515.4 454.7,512.6 459,512.4 463.3,516.1 467.6,528.8 471.9,564.8 476.2,539.1 480.5,526.2 484.8,523.2 489.1,530 493.4,569.8 497.7,577.8 502,560.4 506.3,556.3 510.6,555.4 514.9,568.1 519.2,589.9 523.5,617.2 527.8,631.5 532.1,631.5 536.4,631.5 540.7,631.5 545,631.5 545,631.5" stroke="url(#g9)"/><polygon points="114.3,633.5 114.3,604.6 118.6,599.7 122.9,594.9 127.2,590.8 131.5,586.6 135.8,584 140.1,582.1 144.4,580.1 148.7,578.1 153,575.8 157.3,573.5 161.6,570.1 165.9,566.4 170.2,563.2 174.5,561 178.8,558.9 183.1,556.8 187.4,554.6 191.7,554.1 196,554 200.3,553.6 204.6,552.8 208.9,552.4 213.2,553.2 217.5,553.1 221.8,544.8 226.1,536.2 230.4,535 234.7,533.7 239,532.8 243.3,536.2 247.6,539.5 251.9,542.8 256.2,540.4 260.5,529.6 264.8,521.4 269.1,517.7 273.4,514.1 277.7,512.5 282,512.7 286.3,513.3 290.6,514.3 294.9,515.3 299.2,516.6 303.5,518.7 307.8,521.2 312.1,525.3 316.4,529.5 320.7,532.5 325,537.6 329.3,544.2 333.6,550 337.9,548.9 342.2,541.1 346.5,539.1 350.8,534.1 355.1,530.1 359.4,527.7 363.7,529 368,528.6 372.3,524.7 376.6,520.6 380.9,520.6 385.2,523.8 389.5,526.9 393.8,527 398.1,525.6 402.4,524.1 406.7,525.6 411,531.7 415.3,530.4 419.6,524.2 423.9,527.4 428.2,537.6 432.5,547.5 436.8,549.5 441.1,550.7 445.4,535.1 449.7,525.2 454,521.8 458.3,521.3 462.6,525.9 466.9,541.3 471.2,584.9 475.5,553.6 479.8,537.4 484.1,532.9 488.4,540.2 492.7,586.3 497,594.1 501.3,571.8 505.6,566.4 509.9,564.5 514.2,577.9 518.5,600.3 522.8,633.5 527.1,633.5 531.4,633.5 535.7,633.5 540,633.5 544.3,633.5 544.3,633.5" stroke="url(#g10)"/><polygon points="113.6,634.5 113.6,616.7 117.9,611.9 122.2,607.1 126.5,603.1 130.8,599 135.1,596.4 139.4,594.5 143.7,592.6 148,590.6 152.3,588.4 156.6,586.2 160.9,582.8 165.2,579.2 169.5,576.1 173.8,574 178.1,571.9 182.4,569.9 186.7,567.9 191,567.5 195.3,567.7 199.6,567.6 203.9,567.1 208.2,567 212.5,568.1 216.8,568.1 221.1,558.8 225.4,549.5 229.7,548 234,546.5 238.3,545.3 242.6,549.6 246.9,553.9 251.2,558.5 255.5,556.4 259.8,543.9 264.1,534.5 268.4,530.4 272.7,526.4 277,524.7 281.3,524.9 285.6,525.5 289.9,526.4 294.2,527.5 298.5,528.9 302.8,531.2 307.1,533.9 311.4,538.7 315.7,543.4 320,546.8 324.3,552.7 328.6,560.6 332.9,567.6 337.2,566.2 341.5,556.4 345.8,553.9 350.1,548.6 354.4,544.6 358.7,542.4 363,543.8 367.3,543.3 371.6,539.3 375.9,535.1 380.2,535.1 384.5,538.7 388.8,541.9 393.1,542 397.4,540.4 401.7,538.8 406,540.4 410.3,546.7 414.6,545.6 418.9,539.7 423.2,543.5 427.5,554.7 431.8,565.7 436.1,568.1 440.4,568 444.7,546.6 449,534.6 453.3,530.6 457.6,529.9 461.9,535.4 466.2,553.7 470.5,605.6 474.8,568.4 479.1,548.5 483.4,542.3 487.7,550.1 492,603.1 496.3,610.7 500.6,583.2 504.9,576.1 509.2,573.3 513.5,587.4 517.8,610.6 522.1,634.5 526.4,634.5 530.7,634.5 535,634.5 539.3,634.5 543.6,634.5 543.6,634.5" stroke="url(#g11)"/><polygon points="112.8,636.5 112.8,636.5 117.1,632.1 121.4,621.8 125.7,617.7 130,613.7 134.3,611.2 138.6,609.4 142.9,607.5 147.2,605.6 151.5,603.4 155.8,601.2 160.1,597.9 164.4,594.4 168.7,591.4 173,589.4 177.3,587.5 181.6,585.5 185.9,583.6 190.2,583.5 194.5,584 198.8,584.2 203.1,584 207.4,584.3 211.7,585.7 216,585.8 220.3,575.4 224.6,565.1 228.9,563.4 233.2,561.6 237.5,560.3 241.8,565.6 246.1,570.9 250.4,577 254.7,575.3 259,560.7 263.3,550 267.6,545.5 271.9,541 276.2,539.2 280.5,539.4 284.8,540 289.1,540.7 293.4,541.9 297.7,543.4 302,546 306.3,548.9 310.6,554.5 314.9,559.9 319.2,563.6 323.5,570.4 327.8,579.7 332.1,588.2 336.4,586.5 340.7,574.3 345,571.3 349.3,565.7 353.6,561.7 357.9,559.6 362.2,561.3 366.5,560.7 370.8,556.5 375.1,552.1 379.4,552.3 383.7,556.1 388,559.7 392.3,559.6 396.6,557.9 400.9,556 405.2,557.8 409.5,564.4 413.8,563.5 418.1,558 422.4,562.3 426.7,574.8 431,587 435.3,589.8 439.6,588 443.9,560 448.2,545.8 452.5,541 456.8,540 461.1,546.7 465.4,568 469.7,636.5 474,585.2 478.3,561.4 482.6,553.4 486.9,561.7 491.2,622.2 495.5,636.5 499.8,596.3 504.1,587.6 508.4,583.8 512.7,598.7 517,622.6 521.3,636.5 525.6,636.5 529.9,636.5 534.2,636.5 538.5,636.5 542.8,636.5 542.8,636.5" stroke="url(#g12)"/><polygon points="112.1,638.5 112.1,638.5 116.4,638.5 120.7,638.5 125,638.5 129.3,637.5 133.6,631.4 137.9,626.9 142.2,623.7 146.5,621.9 150.8,619.8 155.1,617.7 159.4,614.4 163.7,611 168,608.1 172.3,606.3 176.6,604.4 180.9,602.6 185.2,600.8 189.5,600.9 193.8,601.8 198.1,602.3 202.4,602.5 206.7,603.1 211,604.9 215.3,605.2 219.6,593.5 223.9,582.2 228.2,580.2 232.5,578.1 236.8,576.6 241.1,583 245.4,589.4 249.7,597.2 254,595.9 258.3,579.1 262.6,567 266.9,562 271.2,557 275.5,555 279.8,555.2 284.1,555.8 288.4,554.9 292.7,556.3 297,558.2 301.3,561.3 305.6,564.7 309.9,571.8 314.2,578 318.5,582 322.8,589.8 327.1,600.7 331.4,610.9 335.7,608.7 340,593.9 344.3,590.3 348.6,584.5 352.9,580.4 357.2,578.5 361.5,580.4 365.8,579.7 370.1,575.4 374.4,570.8 378.7,571.1 383,575.2 387.3,579.1 391.6,578.8 395.9,576.9 400.2,574.9 404.5,576.9 408.8,583.7 413.1,583.2 417.4,578 421.7,582.9 426,596.7 430.3,610.4 434.6,613.5 438.9,609.8 443.2,574.3 447.5,557.7 451.8,552.1 456.1,550.8 460.4,558.6 464.7,583.4 469,638.5 473.3,603.2 477.6,575.1 481.9,565.3 486.2,574.1 490.5,638.5 494.8,638.5 499.1,610.4 503.4,599.9 507.7,594.9 512,610.6 516.3,638.5 520.6,638.5 524.9,638.5 529.2,638.5 533.5,638.5 537.8,638.5 542.1,638.5 542.1,638.5" stroke="url(#g13)"/><polygon points="111.4,639.5 111.4,639.5 115.7,639.5 120,639.5 124.3,639.5 128.6,639.5 132.9,639.5 137.2,639.5 141.5,639.5 145.8,639.5 150.1,639.5 154.4,639.5 158.7,639.5 163,631.4 167.3,625.3 171.6,623.5 175.9,621.8 180.2,620.1 184.5,618.4 188.8,618.8 193.1,620.1 197.4,621 201.7,621.5 206,622.6 210.3,624.8 214.6,625.2 218.9,612.1 223.2,599.8 227.5,597.4 231.8,595 236.1,593.2 240.4,600.9 244.7,608.5 249,618.2 253.3,617.3 257.6,598.1 261.9,584.4 266.2,578.9 270.5,573.3 274.8,571.2 279.1,571.3 283.4,570.9 287.7,568.2 292,569.7 296.3,572 300.6,575.6 304.9,579.6 309.2,589.5 313.5,596.5 317.8,601 322.1,609.9 326.4,622.6 330.7,639.5 335,639.5 339.3,614.3 343.6,610 347.9,603.8 352.2,599.7 356.5,598 360.8,600.1 365.1,599.4 369.4,594.8 373.7,590 378,590.5 382.3,595 386.6,599.1 390.9,598.7 395.2,596.6 399.5,594.4 403.8,596.6 408.1,603.7 412.4,603.5 416.7,598.7 421,604.3 425.3,619.6 429.6,639.5 433.9,639.5 438.2,639.5 442.5,588.6 446.8,568.9 451.1,562.6 455.4,560.9 459.7,569.9 464,598.1 468.3,639.5 472.6,620.8 476.9,588.3 481.2,576.4 485.5,585.9 489.8,639.5 494.1,639.5 498.4,623.8 502.7,611.5 507,605.3 511.3,621.9 515.6,639.5 519.9,639.5 524.2,639.5 528.5,639.5 532.8,639.5 537.1,639.5 541.4,639.5 541.4,639.5" stroke="url(#g14)"/><polygon points="110.7,641.5 110.7,641.5 115,641.5 119.3,641.5 123.6,641.5 127.9,641.5 132.2,641.5 136.5,641.5 140.8,641.5 145.1,641.5 149.4,641.5 153.7,641.5 158,641.5 162.3,641.5 166.6,641.5 170.9,641.5 175.2,641.5 179.5,641.5 183.8,641.5 188.1,641.5 192.4,641.5 196.7,641.5 201,641.5 205.3,641.5 209.6,641.5 213.9,641.5 218.2,641.5 222.5,619.8 226.8,617.1 231.1,614.4 235.4,612.3 239.7,621.2 244,634.1 248.3,641.5 252.6,641.5 256.9,619.6 261.2,604.2 265.5,598.1 269.8,592 274.1,589.6 278.4,589.4 282.7,586.9 287,582.4 291.3,584.1 295.6,586.7 299.9,590.9 304.2,595.4 308.5,609.7 312.8,617.7 317.1,622.5 321.4,640.2 325.7,641.5 330,641.5 334.3,641.5 338.6,641.5 342.9,639.1 347.2,625.7 351.5,621.6 355.8,620.2 360.1,622.5 364.4,621.6 368.7,616.9 373,611.8 377.3,612.6 381.6,617.3 385.9,621.9 390.2,621.3 394.5,619 398.8,616.5 403.1,619 407.4,626.3 411.7,626.5 416,622.1 420.3,629.6 424.6,641.5 428.9,641.5 433.2,641.5 437.5,641.5 441.8,604.6 446.1,581.1 450.4,574 454.7,572 459,582.2 463.3,613.9 467.6,641.5 471.9,641.5 476.2,602.4 480.5,588.6 484.8,598.6 489.1,641.5 493.4,641.5 497.7,641.5 502,624 506.3,616.7 510.6,641.5 514.9,641.5 519.2,641.5 523.5,641.5 527.8,641.5 532.1,641.5 536.4,641.5 540.7,641.5 540.7,641.5" stroke="url(#g15)"/><polygon points="109.9,643.5 109.9,643.5 114.2,643.5 118.5,643.5 122.8,643.5 127.1,643.5 131.4,643.5 135.7,643.5 140,643.5 144.3,643.5 148.6,643.5 152.9,643.5 157.2,643.5 161.5,643.5 165.8,643.5 170.1,643.5 174.4,643.5 178.7,643.5 183,643.5 187.3,643.5 191.6,643.5 195.9,643.5 200.2,643.5 204.5,643.5 208.8,643.5 213.1,643.5 217.4,643.5 221.7,643.5 226,643.5 230.3,643.2 234.6,637.1 238.9,643.5 243.2,643.5 247.5,643.5 251.8,643.5 256.1,643.5 260.4,625.5 264.7,618.8 269,612 273.3,609.4 277.6,607.4 281.9,602.9 286.2,596.7 290.5,598.5 294.8,601.5 299.1,606.2 303.4,611.2 307.7,634 312,643.5 316.3,643.5 320.6,643.5 324.9,643.5 329.2,643.5 333.5,643.5 337.8,643.5 342.1,643.5 346.4,643.5 350.7,643.5 355,643.5 359.3,643.5 363.6,643.5 367.9,643.5 372.2,643.5 376.5,643.5 380.8,643.5 385.1,643.5 389.4,643.5 393.7,643.5 398,643.5 402.3,643.5 406.6,643.5 410.9,643.5 415.2,643.5 419.5,643.5 423.8,643.5 428.1,643.5 432.4,643.5 436.7,643.5 441,620.6 445.3,593.3 449.6,585.4 453.9,583.1 458.2,594.5 462.5,629.7 466.8,643.5 471.1,643.5 475.4,616.6 479.7,600.7 484,611.4 488.3,643.5 492.6,643.5 496.9,643.5 501.2,643.5 505.5,628.1 509.8,643.5 514.1,643.5 518.4,643.5 522.7,643.5 527,643.5 531.3,643.5 535.6,643.5 539.9,643.5 539.9,643.5" stroke="url(#g16)"/><polygon points="109.2,644.5 109.2,644.5 113.5,644.5 117.8,644.5 122.1,644.5 126.4,644.5 130.7,644.5 135,644.5 139.3,644.5 143.6,644.5 147.9,644.5 152.2,644.5 156.5,644.5 160.8,644.5 165.1,644.5 169.4,644.5 173.7,644.5 178,644.5 182.3,644.5 186.6,644.5 190.9,644.5 195.2,644.5 199.5,644.5 203.8,644.5 208.1,644.5 212.4,644.5 216.7,644.5 221,644.5 225.3,644.5 229.6,644.5 233.9,644.5 238.2,644.5 242.5,644.5 246.8,644.5 251.1,644.5 255.4,644.5 259.7,644.5 264,644.5 268.3,634.9 272.6,629.3 276.9,624.4 281.2,618 285.5,609.9 289.8,612 294.1,615.3 298.4,620.4 302.7,626 307,644.5 311.3,644.5 315.6,644.5 319.9,644.5 324.2,644.5 328.5,644.5 332.8,644.5 337.1,644.5 341.4,644.5 345.7,644.5 350,644.5 354.3,644.5 358.6,644.5 362.9,644.5 367.2,644.5 371.5,644.5 375.8,644.5 380.1,644.5 384.4,644.5 388.7,644.5 393,644.5 397.3,644.5 401.6,644.5 405.9,644.5 410.2,644.5 414.5,644.5 418.8,644.5 423.1,644.5 427.4,644.5 431.7,644.5 436,644.5 440.3,643.1 444.6,604.5 448.9,595.9 453.2,593.2 457.5,605.8 461.8,644.5 466.1,644.5 470.4,644.5 474.7,629.7 479,611.9 483.3,623.2 487.6,644.5 491.9,644.5 496.2,644.5 500.5,644.5 504.8,644.5 509.1,644.5 513.4,644.5 517.7,644.5 522,644.5 526.3,644.5 530.6,644.5 534.9,644.5 539.2,644.5 539.2,644.5" stroke="url(#g17)"/><polygon points="108.5,646.5 108.5,646.5 112.8,646.5 117.1,646.5 121.4,646.5 125.7,646.5 130,646.5 134.3,646.5 138.6,646.5 142.9,646.5 147.2,646.5 151.5,646.5 155.8,646.5 160.1,646.5 164.4,646.5 168.7,646.5 173,646.5 177.3,646.5 181.6,646.5 185.9,646.5 190.2,646.5 194.5,646.5 198.8,646.5 203.1,646.5 207.4,646.5 211.7,646.5 216,646.5 220.3,646.5 224.6,646.5 228.9,646.5 233.2,646.5 237.5,646.5 241.8,646.5 246.1,646.5 250.4,646.5 254.7,646.5 259,646.5 263.3,646.5 267.6,646.5 271.9,646.5 276.2,646.5 280.5,635.9 284.8,624.2 289.1,626.4 293.4,630 297.7,640.3 302,646.5 306.3,646.5 310.6,646.5 314.9,646.5 319.2,646.5 323.5,646.5 327.8,646.5 332.1,646.5 336.4,646.5 340.7,646.5 345,646.5 349.3,646.5 353.6,646.5 357.9,646.5 362.2,646.5 366.5,646.5 370.8,646.5 375.1,646.5 379.4,646.5 383.7,646.5 388,646.5 392.3,646.5 396.6,646.5 400.9,646.5 405.2,646.5 409.5,646.5 413.8,646.5 418.1,646.5 422.4,646.5 426.7,646.5 431,646.5 435.3,646.5 439.6,646.5 443.9,616.7 448.2,607.3 452.5,604.3 456.8,618.1 461.1,646.5 465.4,646.5 469.7,646.5 474,646.5 478.3,624 482.6,640.8 486.9,646.5 491.2,646.5 495.5,646.5 499.8,646.5 504.1,646.5 508.4,646.5 512.7,646.5 517,646.5 521.3,646.5 525.6,646.5 529.9,646.5 534.2,646.5 538.5,646.5 538.5,646.5" stroke="url(#g18)"/><polygon points="107.8,648.5 107.8,648.5 112.1,648.5 116.4,648.5 120.7,648.5 125,648.5 129.3,648.5 133.6,648.5 137.9,648.5 142.2,648.5 146.5,648.5 150.8,648.5 155.1,648.5 159.4,648.5 163.7,648.5 168,648.5 172.3,648.5 176.6,648.5 180.9,648.5 185.2,648.5 189.5,648.5 193.8,648.5 198.1,648.5 202.4,648.5 206.7,648.5 211,648.5 215.3,648.5 219.6,648.5 223.9,648.5 228.2,648.5 232.5,648.5 236.8,648.5 241.1,648.5 245.4,648.5 249.7,648.5 254,648.5 258.3,648.5 262.6,648.5 266.9,648.5 271.2,648.5 275.5,648.5 279.8,648.5 284.1,644 288.4,648.5 292.7,648.5 297,648.5 301.3,648.5 305.6,648.5 309.9,648.5 314.2,648.5 318.5,648.5 322.8,648.5 327.1,648.5 331.4,648.5 335.7,648.5 340,648.5 344.3,648.5 348.6,648.5 352.9,648.5 357.2,648.5 361.5,648.5 365.8,648.5 370.1,648.5 374.4,648.5 378.7,648.5 383,648.5 387.3,648.5 391.6,648.5 395.9,648.5 400.2,648.5 404.5,648.5 408.8,648.5 413.1,648.5 417.4,648.5 421.7,648.5 426,648.5 430.3,648.5 434.6,648.5 438.9,648.5 443.2,628.9 447.5,618.7 451.8,615.4 456.1,630.4 460.4,648.5 464.7,648.5 469,648.5 473.3,648.5 477.6,638.5 481.9,648.5 486.2,648.5 490.5,648.5 494.8,648.5 499.1,648.5 503.4,648.5 507.7,648.5 512,648.5 516.3,648.5 520.6,648.5 524.9,648.5 529.2,648.5 533.5,648.5 537.8,648.5 537.8,648.5" stroke="url(#g19)"/><polygon points="107.1,649.5 107.1,649.5 111.4,649.5 115.7,649.5 120,649.5 124.3,649.5 128.6,649.5 132.9,649.5 137.2,649.5 141.5,649.5 145.8,649.5 150.1,649.5 154.4,649.5 158.7,649.5 163,649.5 167.3,649.5 171.6,649.5 175.9,649.5 180.2,649.5 184.5,649.5 188.8,649.5 193.1,649.5 197.4,649.5 201.7,649.5 206,649.5 210.3,649.5 214.6,649.5 218.9,649.5 223.2,649.5 227.5,649.5 231.8,649.5 236.1,649.5 240.4,649.5 244.7,649.5 249,649.5 253.3,649.5 257.6,649.5 261.9,649.5 266.2,649.5 270.5,649.5 274.8,649.5 279.1,649.5 283.4,649.5 287.7,649.5 292,649.5 296.3,649.5 300.6,649.5 304.9,649.5 309.2,649.5 313.5,649.5 317.8,649.5 322.1,649.5 326.4,649.5 330.7,649.5 335,649.5 339.3,649.5 343.6,649.5 347.9,649.5 352.2,649.5 356.5,649.5 360.8,649.5 365.1,649.5 369.4,649.5 373.7,649.5 378,649.5 382.3,649.5 386.6,649.5 390.9,649.5 395.2,649.5 399.5,649.5 403.8,649.5 408.1,649.5 412.4,649.5 416.7,649.5 421,649.5 425.3,649.5 429.6,649.5 433.9,649.5 438.2,649.5 442.5,646.8 446.8,629.1 451.1,625.5 455.4,649.5 459.7,649.5 464,649.5 468.3,649.5 472.6,649.5 476.9,649.5 481.2,649.5 485.5,649.5 489.8,649.5 494.1,649.5 498.4,649.5 502.7,649.5 507,649.5 511.3,649.5 515.6,649.5 519.9,649.5 524.2,649.5 528.5,649.5 532.8,649.5 537.1,649.5 537.1,649.5" stroke="url(#g20)"/><polygon points="106.3,651.5 106.3,651.5 110.6,651.5 114.9,651.5 119.2,651.5 123.5,651.5 127.8,651.5 132.1,651.5 136.4,651.5 140.7,651.5 145,651.5 149.3,651.5 153.6,651.5 157.9,651.5 162.2,651.5 166.5,651.5 170.8,651.5 175.1,651.5 179.4,651.5 183.7,651.5 188,651.5 192.3,651.5 196.6,651.5 200.9,651.5 205.2,651.5 209.5,651.5 213.8,651.5 218.1,651.5 222.4,651.5 226.7,651.5 231,651.5 235.3,651.5 239.6,651.5 243.9,651.5 248.2,651.5 252.5,651.5 256.8,651.5 261.1,651.5 265.4,651.5 269.7,651.5 274,651.5 278.3,651.5 282.6,651.5 286.9,651.5 291.2,651.5 295.5,651.5 299.8,651.5 304.1,651.5 308.4,651.5 312.7,651.5 317,651.5 321.3,651.5 325.6,651.5 329.9,651.5 334.2,651.5 338.5,651.5 342.8,651.5 347.1,651.5 351.4,651.5 355.7,651.5 360,651.5 364.3,651.5 368.6,651.5 372.9,651.5 377.2,651.5 381.5,651.5 385.8,651.5 390.1,651.5 394.4,651.5 398.7,651.5 403,651.5 407.3,651.5 411.6,651.5 415.9,651.5 420.2,651.5 424.5,651.5 428.8,651.5 433.1,651.5 437.4,651.5 441.7,651.5 446,644.9 450.3,636.6 454.6,651.5 458.9,651.5 463.2,651.5 467.5,651.5 471.8,651.5 476.1,651.5 480.4,651.5 484.7,651.5 489,651.5 493.3,651.5 497.6,651.5 501.9,651.5 506.2,651.5 510.5,651.5 514.8,651.5 519.1,651.5 523.4,651.5 527.7,651.5 532,651.5 536.3,651.5 536.3,651.5" stroke="url(#g21)"/><path d="M105.6 653.5H535.6" stroke="#0061ff"/><path d="M104.9 654.5H534.9" stroke="#0061ff"/><path d="M104.2 656.5H534.2" stroke="#0061ff"/><path d="M103.4 658.5H533.4" stroke="#0061ff"/><path d="M102.7 659.5H532.7" stroke="#0061ff"/><path d="M102 661.5H532" stroke="#0061ff"/><path d="M101.3 663.5H531.3" stroke="#0061ff"/><path d="M100.6 664.5H530.6" stroke="#0061ff"/><path d="M99.8 666.5H529.8" stroke="#0061ff"/><path d="M99.1 668.5H529.1" stroke="#0061ff"/><path d="M98.4 669.5H528.4" stroke="#0061ff"/><path d="M97.7 671.5H527.7" stroke="#0061ff"/><path d="M96.9 673.5H526.9" stroke="#0061ff"/><path d="M96.2 674.5H526.2" stroke="#0061ff"/><path d="M95.5 676.5H525.5" stroke="#0061ff"/><path d="M94.8 678.5H524.8" stroke="#0061ff"/><path d="M94.1 679.5H524.1" stroke="#0061ff"/><path d="M93.3 681.5H523.3" stroke="#0061ff"/><path d="M92.6 683.5H522.6" stroke="#0061ff"/><path d="M91.9 684.5H521.9" stroke="#0061ff"/><path d="M91.2 686.5H521.2" stroke="#0061ff"/><path d="M90.4 688.5H520.4" stroke="#0061ff"/><path d="M89.7 689.5H519.7" stroke="#0061ff"/><path d="M89 691.5H519" stroke="#0061ff"/><path d="M88.3 693.5H518.3" stroke="#0061ff"/><path d="M87.6 694.5H517.6" stroke="#0061ff"/><path d="M86.8 696.5H516.8" stroke="#0061ff"/><path d="M86.1 698.5H516.1" stroke="#0061ff"/><path d="M85.4 699.5H515.4" stroke="#0061ff"/><path d="M84.7 701.5H514.7" stroke="#0061ff"/><path d="M83.9 703.5H513.9" stroke="#0061ff"/><path d="M83.2 704.5H513.2" stroke="#0061ff"/><path d="M82.5 706.5H512.5" stroke="#0061ff"/><path d="M81.8 708.5H511.8" stroke="#0061ff"/><path d="M81.1 709.5H511.1" stroke="#0061ff"/><path d="M80.3 711.5H510.3" stroke="#0061ff"/><path d="M79.6 713.5H509.6" stroke="#0061ff"/><path d="M78.9 714.5H508.9" stroke="#0061ff"/><path d="M78.2 716.5H508.2" stroke="#0061ff"/><path d="M77.4 718.5H507.4" stroke="#0061ff"/><path d="M76.7 719.5H506.7" stroke="#0061ff"/><path d="M76 721.5H506" stroke="#0061ff"/><path d="M75.3 723.5H505.3" stroke="#0061ff"/><path d="M74.6 724.5H504.6" stroke="#0061ff"/><path d="M73.8 726.5H503.8" stroke="#0061ff"/><path d="M73.1 728.5H503.1" stroke="#0061ff"/><path d="M72.4 729.5H502.4" stroke="#0061ff"/><path d="M71.7 731.5H501.7" stroke="#0061ff"/><path d="M70.9 733.5H500.9" stroke="#0061ff"/><path d="M70.2 734.5H500.2" stroke="#0061ff"/><path d="M69.5 736.5H499.5" stroke="#0061ff"/><path d="M68.8 738.5H498.8" stroke="#0061ff"/><path d="M68.1 739.5H498.1" stroke="#0061ff"/><path d="M67.3 741.5H497.3" stroke="#0061ff"/><path d="M66.6 743.5H496.6" stroke="#0061ff"/><path d="M65.9 744.5H495.9" stroke="#0061ff"/><path d="M65.2 746.5H495.2" stroke="#0061ff"/><path d="M64.4 748.5H494.4" stroke="#0061ff"/><path d="M63.7 749.5H493.7" stroke="#0061ff"/><path d="M63 751.5H493" stroke="#0061ff"/><path d="M62.3 753.5H492.3" stroke="#0061ff"/><path d="M61.6 754.5H491.6" stroke="#0061ff"/><path d="M60.8 756.5H490.8" stroke="#0061ff"/><path d="M60.1 758.5H490.1" stroke="#0061ff"/><path d="M59.4 759.5H489.4" stroke="#0061ff"/><path d="M58.7 761.5H488.7" stroke="#0061ff"/><path d="M57.9 763.5H487.9" stroke="#0061ff"/><path d="M57.2 764.5H487.2" stroke="#0061ff"/><path d="M56.5 766.5H486.5" stroke="#0061ff"/></g>
<defs><linearGradient id="cbar" x1="0" y1="1" x2="0" y2="0"><stop offset="0.0000" stop-color="#0061ff"/><stop offset="0.0333" stop-color="#007bff"/><stop offset="0.0667" stop-color="#0096ff"/><stop offset="0.1000" stop-color="#00b0ff"/><stop offset="0.1333" stop-color="#00cbff"/><stop offset="0.1667" stop-color="#00e5ff"/><stop offset="0.2000" stop-color="#01fffe"/><stop offset="0.2333" stop-color="#1cffe3"/><stop offset="0.2667" stop-color="#36ffc9"/><stop offset="0.3000" stop-color="#51ffae"/><stop offset="0.3333" stop-color="#6bff94"/><stop offset="0.3667" stop-color="#86ff79"/><stop offset="0.4000" stop-color="#a0ff5f"/><stop offset="0.4333" stop-color="#bbff44"/><stop offset="0.4667" stop-color="#d5ff2a"/><stop offset="0.5000" stop-color="#f0ff0f"/><stop offset="0.5333" stop-color="#fff400"/><stop offset="0.5667" stop-color="#ffd900"/><stop offset="0.6000" stop-color="#ffbf00"/><stop offset="0.6333" stop-color="#ffa400"/><stop offset="0.6667" stop-color="#ff8a00"/><stop offset="0.7000" stop-color="#ff6f00"/><stop offset="0.7333" stop-color="#ff5500"/><stop offset="0.7667" stop-color="#ff3a00"/><stop offset="0.8000" stop-color="#ff2000"/><stop offset="0.8333" stop-color="#ff0500"/><stop offset="0.8667" stop-color="#ea0000"/><stop offset="0.9000" stop-color="#cf0000"/><stop offset="0.9333" stop-color="#b50000"/><stop offset="0.9667" stop-color="#9a0000"/><stop offset="1.0000" stop-color="#800000"/></linearGradient></defs>
<rect x="51" y="600" width="5" height="167" fill="url(#cbar)"/>
<path d="M51 600.5H57M56.5 600V767" stroke="#808080"/>
<path d="M51 634.5H57M51 667.5H57M51 701.5H57M51 734.5H57" stroke="#808080" fill="none"/>
<path d="M56 767.5H488M83.5 768V772M119.5 768V772M144.5 768V772M164.5 768V772M180.5 768V772M194.5 768V772M206.5 768V772M216.5 768V772M225.5 768V772M287.5 768V772M322.5 768V772M348.5 768V772M368.5 768V772M384.5 768V772M397.5 768V772M409.5 768V772M419.5 768V772M429.5 768V772" stroke="#808080" fill="none"/>
<path d="M551.5 616.5H556.5M538.5 646.5H543.5M525.5 676.5H530.5M512.5 706.5H517.5M499.5 736.5H504.5" stroke="#808080" fill="none"/>
<g filter="url(#tb)"><text x="300.5" y="440" font-size="13">Burst Decay</text><text x="560.5" y="462" text-anchor="middle" font-size="14">A</text><text x="560.5" y="476" text-anchor="middle" font-size="14">R</text><text x="560.5" y="490" text-anchor="middle" font-size="14">T</text><text x="560.5" y="504" text-anchor="middle" font-size="14">A</text><text x="46" y="605" text-anchor="end">dB</text><text x="46" y="638.7" text-anchor="end">-6.0</text><text x="46" y="671.9" text-anchor="end">-12.0</text><text x="46" y="705" text-anchor="end">-18.0</text><text x="46" y="738.2" text-anchor="end">-24.0</text><text x="46" y="771.4" text-anchor="end">-30.0</text><text x="559.5" y="621">0.0</text><text x="546.5" y="651">6.0</text><text x="533.5" y="681">12.0</text><text x="520.5" y="711">18.0</text><text x="507.5" y="741">24.0</text><text x="495" y="772">30.0 Periods</text><text x="83.7" y="787" text-anchor="middle">200</text><text x="164.7" y="787" text-anchor="middle">500</text><text x="225.9" y="787" text-anchor="middle">1k</text><text x="287.1" y="787" text-anchor="middle">2k</text><text x="368.1" y="787" text-anchor="middle">5k</text><text x="429.3" y="787" text-anchor="middle">10k</text><text x="231" y="804">Frequency (Hz)</text><text x="445" y="804">Gated 8.07 ms</text><text x="56.5" y="831">75-1558SE</text></g>
<path d="M686.5 472V767M707.5 472V767M722.5 472V767M735.5 472V767M746.5 472V767M755.5 472V767M763.5 472V767M771.5 472V767M819.5 472V767M848.5 472V767M868.5 472V767M884.5 472V767M896.5 472V767M907.5 472V767M916.5 472V767M925.5 472V767M932.5 472V767M981.5 472V767M1009.5 472V767M1029.5 472V767M1045.5 472V767M1058.5 472V767M1068.5 472V767M1078.5 472V767M1086.5 472V767M1093.5 472V767M659 734.5H1142M659 701.5H1142M659 668.5H1142M659 635.5H1142M659 603.5H1142M659 570.5H1142M659 537.5H1142M659 504.5H1142" stroke="#a0a0a0" fill="none"/>
<path d="M991.5 472V767" stroke="#d8d000"/>
<g fill="none" stroke-width="2" stroke-linejoin="miter" stroke-miterlimit="2" shape-rendering="crispEdges">
<polyline points="771.3,579.2 775,578 781.7,571.7 784.2,567.5 786.7,560.8 790,559.2 794.2,556.3 800,555 805.8,555 809.2,550.8 811.7,545.3 816.7,542.5 820,539.2 823.3,534.2 828.3,532 832.5,530.8 836.7,528.7 841.7,528.8 848.3,528 853.3,525.8 858.3,520.8 863.3,518.3 866.7,515 875,515.8 881.7,514.2 886.7,512.5 891.7,509.2 898.3,509.7 905,506.7 911.7,503.7 918.3,501.7 923.3,499.2 931.7,498 940,497.5 946.7,498.7 951.7,499.2 955,500.6 959.8,503.7 966.1,505.6 972.4,508.8 978.7,507.2 988.2,506.6 993,504.1 1000.9,501.8 1012,500.3 1021.5,499 1029.4,499 1037.3,500.9 1046.8,503.4 1054.7,505.8 1060.3,504.5 1067.4,499.8 1075.3,496.6 1080.1,498.2 1086.4,504.5 1094.3,512.5 1103.8,523.5 1113.3,537 1118.1,546.5 1122.8,560.7 1126,575 1129.2,586.1 1133.1,592.4 1140.2,592.7 1141.8,595.6" stroke="#000080"/>
<polyline points="771.3,656 771.3,656 771.3,668.3 771.8,668.3 772.2,688 773.2,688 774,676.2 775,676.2 775.7,673.7 776.8,673.7 777.5,686.6 778.6,686.6 779.3,677.2 780.4,677.2 781.1,661.1 782.2,661.1 782.9,663 784,663 784.7,673.5 785.8,673.5 786.5,671.9 787.3,671.9 787.8,680.3 788.6,680.3 789.1,681.6 789.9,681.6 790.5,679.9 791.3,679.9 791.8,673.7 792.6,673.7 793.1,674.3 794,674.3 794.5,682.6 795.3,682.6 795.9,671.4 796.7,671.4 797.2,668.3 798,668.3 798.6,676.2 799.4,676.2 799.9,657.5 800.7,657.5 801.2,677.7 802.1,677.7 802.6,666.5 803.4,666.5 804,679.9 804.8,679.9 805.3,684.4 806.2,684.4 806.8,690.3 807.6,690.3 808.2,668.4 809.1,668.4 809.7,673.7 810.8,673.7 811.5,679.5 812.6,679.5 813.3,662.9 814.4,662.9 815.1,650.2 816.2,650.2 816.9,661.1 818,661.1 818.7,680 819.8,680 820.5,688 821.5,688 822.2,669.9 823.3,669.9 824,668.3 825.1,668.3 825.8,679.2 826.9,679.2 827.6,668.3 828.7,668.3 829.4,683.4 830.5,683.4 831.2,688 832,688 832.6,676.5 833.4,676.5 833.9,691.4 834.7,691.4 835.2,673.7 836.1,673.7 836.6,677.2 837.6,677.2 838.4,688.1 839.4,688.1 840.1,691.6 840.9,691.6 841.5,669.7 842.3,669.7 842.8,666.5 843.9,666.5 844.6,679.6 845.7,679.6 846.4,673.7 847.2,673.7 847.8,667.3 848.6,667.3 849.1,682.6 850.2,682.6 850.9,698.8 852,698.8 852.7,704.1 853.8,704.1 854.5,687.6 855.5,687.6 856.2,677.2 857.3,677.2 858,686.1 859.1,686.1 859.8,673.7 860.7,673.7 861.2,683.8 862.1,683.8 862.7,665.9 863.5,665.9 864.1,675.1 864.9,675.1 865.4,688.7 866.2,688.7 866.8,670.9 867.6,670.9 868.1,683.2 868.9,683.2 869.5,676.1 870.3,676.1 870.8,667.8 871.7,667.8 872.2,642.6 873.4,642.6 874.2,677.2 875.1,677.2 875.8,688.9 876.7,688.9 877.3,713.7 877.9,713.7 878.3,732 879.5,732 880.3,677.2 881.1,677.2 881.7,657.4 882.5,657.4 883,662.3 883.9,662.3 884.4,644.7 885.6,644.7 886.4,658.9 887.3,658.9 887.9,655.8 888.8,655.8 889.4,642.6 890.7,642.6 891.5,671.1 892.7,671.1 893.5,652.8 894.3,652.8 894.9,639.1 895.7,639.1 896.2,654.3 897.1,654.3 897.6,638.6 898.8,638.6 899.6,673.1 900.5,673.1 901.1,649.6 902,649.6 902.6,648.7 903.4,648.7 904,670.4 904.8,670.4 905.3,679.8 906.2,679.8 906.7,681.2 907.6,681.2 908.2,657.9 909.1,657.9 909.7,642.6 911,642.6 911.8,622.3 913,622.3 913.8,665 914.6,665 915.2,657.6 916,657.6 916.5,639 917.4,639 917.9,630.5 918.8,630.5 919.4,653.5 920.3,653.5 920.9,660.9 922.1,660.9 922.9,634.5 923.8,634.5 924.5,640.1 925.4,640.1 926,656.9 926.6,656.9 927,624.4 927.9,624.4 928.5,630 929.4,630 930,617.9 931,617.9 931.6,614.5 932.6,614.5 933.2,635.1 934.2,635.1 934.8,641.1 935.8,641.1 936.4,628.7 937.7,628.7 938.6,652.3 939.6,652.3 940.2,650.5 941.2,650.5 941.8,663 942.8,663 943.4,625.2 944.4,625.2 945,609.3 945.7,609.3 946.1,648 947.1,648 947.7,632.4 948.7,632.4 949.3,622.2 950.6,622.2 951.5,645.8 952.8,645.8 953.6,635.1 954.6,635.1 955.2,655.1 956.2,655.1 956.8,652.3 957.7,652.3 958.2,637.1 959.1,637.1 959.7,640.7 960.5,640.7 961.1,628.7 961.8,628.7 962.2,663 963.2,663 963.8,665.9 964.8,665.9 965.5,641.8 966.4,641.8 967.1,647.9 968.1,647.9 968.7,635.1 969.7,635.1 970.3,638.9 971.3,638.9 971.9,665.2 972.8,665.2 973.3,654.8 974.2,654.8 974.8,665.7 975.6,665.7 976.2,650.1 977.1,650.1 977.6,648.3 978.5,648.3 979.1,662.2 979.9,662.2 980.5,675.9 981.1,675.9 981.5,643.7 982.8,643.7 983.7,665.2 984.6,665.2 985.1,661.9 986,661.9 986.6,657 987.4,657 988,639.4 989,639.4 989.6,645.1 990.6,645.1 991.2,665.2 992.2,665.2 992.8,658.6 993.8,658.6 994.4,645.8 995.1,645.8 995.5,668.4 996.5,668.4 997.1,650.3 998.1,650.3 998.7,641.5 999.7,641.5 1000.4,649.5 1001.3,649.5 1002,648 1002.8,648 1003.3,651.4 1004.1,651.4 1004.6,634.1 1005.4,634.1 1006,631.4 1006.8,631.4 1007.3,634 1008.3,634 1008.9,648.5 1009.9,648.5 1010.5,650.1 1011.5,650.1 1012.1,634.8 1013.1,634.8 1013.8,633 1014.8,633 1015.4,638.3 1016.4,638.3 1017,628.5 1018,628.5 1018.6,644.2 1019.6,644.2 1020.2,638.3 1021.2,638.3 1021.8,633.1 1022.8,633.1 1023.4,637.9 1024.4,637.9 1025,623.4 1026,623.4 1026.6,627.6 1027.6,627.6 1028.2,635.8 1029.2,635.8 1029.9,640.5 1030.7,640.5 1031.2,645.4 1032,645.4 1032.6,635 1033.3,635 1033.9,641.8 1034.7,641.8 1035.2,635.1 1036.2,635.1 1036.8,634.7 1037.8,634.7 1038.5,649.9 1039.4,649.9 1040.1,645.2 1041,645.2 1041.7,652.3 1042.7,652.3 1043.3,653.3 1044.3,653.3 1044.9,641.5 1046.2,641.5 1047.1,655.5 1048.1,655.5 1048.7,660.7 1049.7,660.7 1050.3,645.6 1051.3,645.6 1051.9,654 1052.9,654 1053.5,648 1054.8,648 1055.6,660.9 1056.6,660.9 1057.2,650.7 1058.2,650.7 1058.9,654.4 1060.2,654.4 1061,672.7 1062,672.7 1062.6,653.4 1064.2,645.8 1065.8,642.9 1067.5,641.5 1069.1,633 1070.7,625.4 1072.1,627.2 1073.6,628.1 1075,628.7 1076.6,632 1078.2,636.2 1079.5,638.7 1080.9,642 1082.2,645.3 1083.6,649.1 1084.9,648.4 1086.2,649.6 1087.6,650.1 1088.9,652.3 1090.5,656 1092.2,659.7 1093.8,665.7 1095.4,669.5 1096.8,673.2 1098.3,673.9 1099.7,678.1 1101.8,689.9 1103.2,691.6 1104.5,691.1 1105.8,694.3 1107.2,694.2 1108.8,699.6 1110.4,703.8 1111.8,710.7 1113.3,714.7 1114.7,721 1116.9,736 1118.5,751.7 1120.1,766.1" stroke="#8000ff"/>
<polyline points="771.3,698.7 772.3,698.7 773,688 774.1,688 774.8,734.5 775.6,734.5 776.1,708.6 777,708.6 777.5,688 778.6,688 779.3,696.1 780.4,696.1 781.1,695.1 782.2,695.1 782.9,692.4 784,692.4 784.7,671.9 785.5,671.9 786,683.2 786.9,683.2 787.4,688 788.2,688 788.7,676.4 789.5,676.4 790,670.1 790.8,670.1 791.4,686.3 792.2,686.3 792.7,688 793.5,688 794,668.5 794.9,668.5 795.4,657.6 796.5,657.6 797.2,675.9 798.3,675.9 799,679 800.1,679 800.8,695.1 801.6,695.1 802.1,676.3 802.9,676.3 803.5,671.2 804.2,671.2 804.8,653.8 805.6,653.8 806.1,652.2 807.2,652.2 807.9,667.7 809,667.7 809.7,675.5 810.8,675.5 811.5,672.2 812.6,672.2 813.3,657.6 814.4,657.6 815.1,666.8 816.2,666.8 816.9,682.6 817.7,682.6 818.2,666.4 819,666.4 819.5,657.1 820.3,657.1 820.9,670.2 821.7,670.2 822.2,650.4 823.3,650.4 824,657.9 825.1,657.9 825.8,680.8 826.6,680.8 827.1,663.1 828,663.1 828.5,654.1 829.3,654.1 829.9,649.8 830.7,649.8 831.2,643.3 832.3,643.3 833,654.7 834.1,654.7 834.8,655.8 835.9,655.8 836.6,637.9 837.6,637.9 838.4,637.7 839.4,637.7 840.1,646.8 841.2,646.8 841.9,649.2 843,649.2 843.7,641.5 844.5,641.5 845,648.1 845.9,648.1 846.4,666.5 847.5,666.5 848.2,662.9 849.3,662.9 850,650.4 850.9,650.4 851.5,636 852.3,636 852.9,652.7 853.8,652.7 854.4,641.5 855.5,641.5 856.2,644.6 857.3,644.6 858,666.5 859.2,666.5 860,665 860.9,665 861.5,665.9 862.4,665.9 863,654.8 863.9,654.8 864.5,670.4 865.5,670.4 866.1,669 867.3,669 868.1,646.7 869.4,646.7 870.2,671.1 871.4,671.1 872.2,648.7 873.1,648.7 873.7,648.9 874.6,648.9 875.2,667 876.2,667 876.9,655.1 877.9,655.1 878.6,665.6 879.6,665.6 880.3,660.9 881.5,660.9 882.3,681.2 883.1,681.2 883.7,678.3 884.5,678.3 885,696.7 885.9,696.7 886.4,687.3 887.6,687.3 888.4,713.7 889.7,713.7 890.5,723.9 891.4,723.9 892,722.2 892.9,722.2 893.5,709.6 894.4,709.6 895,709.5 895.9,709.5 896.5,721.8 897.4,721.8 898,686.6 899,686.6 899.6,665 900.5,665 901.1,685 902,685 902.6,695.4 903.5,695.4 904.2,685.4 905.1,685.4 905.7,685.3 906.6,685.3 907.2,710.5 908.1,710.5 908.7,713.7 909.6,713.7 910.2,701.1 911.2,701.1 911.8,697.5 912.7,697.5 913.3,682.1 914.2,682.1 914.8,681.2 915.7,681.2 916.3,697.3 917.3,697.3 917.9,707.6 918.8,707.6 919.4,702.2 920.3,702.2 920.9,713.7 921.8,713.7 922.5,712.3 923.4,712.3 924,723.9 924.9,723.9 925.5,718.8 926.4,718.8 927,701.5 927.9,701.5 928.5,709 929.4,709 930,701.5 930.9,701.5 931.4,712.6 932.3,712.6 932.9,693 933.7,693 934.3,702.8 935,702.8 935.4,718.9 936.3,718.9 936.8,728.6 937.7,728.6 938.3,714.6 939.1,714.6 939.7,725.3 940.7,725.3 941.3,742 942.3,742 942.9,753.2 944.2,753.2 945,740.3 946.3,740.3 947.2,764 948.5,764 949.3,742.5 950.2,742.5 950.7,741.3 951.6,741.3 952.2,747.6 953,747.6 953.6,753.2 954.5,753.2 955.1,752.3 956,752.3 956.6,752.5 957.5,752.5 958.1,741.9 959,741.9 959.6,744.5 960.5,744.5 961.1,740.3 962,740.3 962.5,749.9 963.4,749.9 964,756.4 964.8,756.4 965.4,759.7 966.2,759.7 966.8,757.9 967.6,757.9 968.1,765.5 968.9,765.5 969.4,765.6 970.3,765.6 970.8,761.8 971.7,761.8 972.2,762 973.1,762 973.7,759.9 974.5,759.9 975.1,766.1" stroke="#800000"/>
<polyline points="983.7,766 983.7,766 983.7,755.4 984.5,755.4 985,755.6 985.8,755.6 986.4,746.1 987.2,746.1 987.7,751.2 988.5,751.2 989,740.9 989.9,740.9 990.4,744.6 991.2,744.6 991.7,736.5 992.5,736.5 993.1,736.9 993.9,736.9 994.4,736 995.3,736 995.8,733.6 996.7,733.6 997.3,732.7 998.1,732.7 998.7,738.2 999.6,738.2 1000.1,748.1 1001,748.1 1001.6,746.6 1002.4,746.6 1003,753.2 1003.9,753.2 1004.4,749.5 1005.3,749.5 1005.9,746.4 1006.7,746.4 1007.3,738.2 1008.2,738.2 1008.7,741.3 1009.6,741.3 1010.2,752.3 1011,752.3 1011.6,753.2 1012.5,753.2 1013,748.9 1013.9,748.9 1014.5,748.7 1015.3,748.7 1015.9,744.6 1016.8,744.6 1017.3,739.4 1018.2,739.4 1018.8,745.4 1019.6,745.4 1020.2,744.3 1021.1,744.3 1021.6,739.7 1022.5,739.7 1023.1,744.9 1023.9,744.9 1024.5,740.3 1025.4,740.3 1025.9,741.2 1026.8,741.2 1027.4,746.1 1028.2,746.1 1028.8,746.8 1029.7,746.8 1030.2,743.6 1031.1,743.6 1031.7,742.1 1032.5,742.1 1033.1,744.6 1034.4,744.6 1035.2,766.1" stroke="#800000"/>
<polyline points="1068,766 1069,766 1069.6,748.9 1070.9,748.9 1071.8,747.9 1074.3,747.9 1076,755.4 1078.6,755.4 1080.3,764 1080.3,764 1080.3,766" stroke="#800000"/>
<polyline points="774.8,767 775.6,767 776.1,751.4 777,751.4 777.5,751 778.3,751 778.9,765.9 779.7,765.9 780.2,767 781,767 781.5,753.5 782.4,753.5 782.9,760 784,760 784.7,767 785.5,767 786,767 786.8,767 787.4,750.7 788.1,750.7 788.7,762 789.5,762 790,745.6 791.1,745.6 791.8,737.7 792.9,737.7 793.6,749.2 794.4,749.2 795,751.5 795.8,751.5 796.3,745.6 797.1,745.6 797.6,767 798.5,767 799,767 800.1,767 800.8,757.5 801.9,757.5 802.6,752.8 803.4,752.8 804,758.6 804.8,758.6 805.3,758.2 806.1,758.2 806.6,740.8 807.5,740.8 808,747.4 809,747.4 809.8,751.2 810.8,751.2 811.5,749.2 812.6,749.2 813.3,734.2 814.4,734.2 815.1,742.1 816.2,742.1 816.9,750.3 818,750.3 818.7,767 819.8,767 820.5,751.6 821.5,751.6 822.2,749.2 823.3,749.2 824,761.6 825.1,761.6 825.8,752.8 826.9,752.8 827.6,749.5 828.7,749.5 829.4,767 830.5,767 831.2,763.3 832.3,763.3 833,751 834.1,751 834.8,743.7 835.9,743.7 836.6,756.4 837.4,756.4 837.9,749 838.7,749 839.2,761.9 840,761.9 840.6,740.5 841.4,740.5 841.9,749.2 842.7,749.2 843.2,751.2 844.1,751.2 844.6,765 845.4,765 845.9,755.8 846.8,755.8 847.3,767 848.1,767 848.6,755.4 849.5,755.4 850,764.4 850.8,764.4 851.4,763 852.2,763 852.7,745.6 853.5,745.6 854,750.6 854.8,750.6 855.4,758.3 856.1,758.3 856.7,748.7 857.5,748.7 858,754.6 858.8,754.6 859.3,766.5 860.1,766.5 860.7,750.7 861.5,750.7 862,764 862.8,764 863.4,767 864.2,767 864.7,762.8 865.6,762.8 866.1,766.4 867,766.4 867.6,767 868.5,767 869,766.8 869.9,766.8 870.5,767 871.4,767 872,760 872.9,760 873.5,767 874.4,767 875,754.7 875.9,754.7 876.5,767 877.4,767 878,767 878.8,767 879.4,767 880.2,767 880.8,767 881.6,767 882.2,764.4 883,764.4 883.6,747.5 884.4,747.5 885,765.6 885.8,765.6 886.4,754.3 887.3,754.3 887.9,748.4 888.8,748.4 889.5,763.4 890.4,763.4 891,745.5 891.9,745.5 892.5,750.2 893.3,750.2 893.8,748.9 894.6,748.9 895.2,748.6 896,748.6 896.5,734 897.3,734 897.9,748.2 898.7,748.2 899.2,749.3 900.1,749.3 900.6,750.2 901.4,750.2 902,745 902.8,745 903.3,760.7 904.1,760.7 904.7,741.4 905.5,741.4 906,750.1 906.8,750.1 907.4,738.5 908.2,738.5 908.7,746.1 909.6,746.1 910.2,760.3 911.1,760.3 911.8,763.7 912.7,763.7 913.3,750.3 914.2,750.3 914.8,758.3 915.7,758.3 916.3,767 917.2,767 917.8,761.7 918.8,761.7 919.4,767 920.3,767 920.9,767" stroke="#8080ff"/>
<polyline points="981.5,766 981.5,766 981.5,761.8 982.4,761.8 982.9,753.4 983.8,753.4 984.4,752.7 985.2,752.7 985.8,742.1 986.7,742.1 987.2,741.6 988.1,741.6 988.7,731.8 989.5,731.8 990.1,727.5 991,727.5 991.5,738.1 992.4,738.1 993,735.7 993.8,735.7 994.4,744.6 995.3,744.6 995.8,737.1 996.7,737.1 997.3,740.8 998.1,740.8 998.7,736 999.6,736 1000.1,736.4 1001,736.4 1001.6,740.6 1002.4,740.6 1003,748.4 1003.9,748.4 1004.4,744.2 1005.3,744.2 1005.9,748.4 1006.7,748.4 1007.3,753.2 1008.6,753.2 1009.5,766" stroke="#8080ff"/>
<polyline points="771.3,723.8 772.3,723.8 773,702.3 773.8,702.3 774.4,705.9 775.2,705.9 775.7,727.3 776.8,727.3 777.5,706.4 778.6,706.4 779.3,695.1 780.4,695.1 781.1,707.2 782.2,707.2 782.9,713 784,713 784.7,703 785.8,703 786.5,698.7 787.6,698.7 788.3,734.5 789.3,734.5 790,695.1 790.9,695.1 791.5,702.5 792.4,702.5 793,703.3 793.9,703.3 794.5,691.6 795.3,691.6 795.9,689.6 796.7,689.6 797.2,702.3 798.3,702.3 799,709.7 800.1,709.7 800.8,704.1 801.6,704.1 802.1,710.6 803,710.6 803.5,741.6 804.3,741.6 804.8,718.9 805.6,718.9 806.1,688 807.2,688 807.9,687.7 809,687.7 809.7,695.1 810.5,695.1 811.1,687.1 811.9,687.1 812.4,700.7 813.2,700.7 813.8,675.9 814.6,675.9 815.1,679 816.2,679 816.9,700.5 818,700.5 818.7,727.3 819.8,727.3 820.5,726.1 821.5,726.1 822.2,698.7 823.3,698.7 824,691.2 825.1,691.2 825.8,695.1 826.6,695.1 827.1,700.3 828,700.3 828.5,698.7 829.4,698.7 830,685.6 830.9,685.6 831.5,699.5 832.4,699.5 833,695.1 834.1,695.1 834.8,710.7 835.9,710.7 836.6,704.1 837.6,704.1 838.4,693.1 839.4,693.1 840.1,695.1 841.2,695.1 841.9,697.8 843,697.8 843.7,720.2 844.5,720.2 845,750.5 845.9,750.5 846.4,763.1 847.2,763.1 847.8,725.7 848.6,725.7 849.1,704.1 850.2,704.1 850.9,694.5 852,694.5 852.7,705.9 853.8,705.9 854.5,726.8 855.5,726.8 856.2,723.8 857.3,723.8 858,707.7 859.1,707.7 859.8,731.5 860.9,731.5 861.6,748.8 863.1,748.8 864.1,742.1 864.9,742.1 865.4,731.4 866.2,731.4 866.8,742.5 867.6,742.5 868.1,725.9 868.9,725.9 869.5,727.8 870.3,727.8 870.8,740.8 871.7,740.8 872.2,758.4 873,758.4 873.5,751.6 874.3,751.6 874.9,724.5 875.7,724.5 876.2,725.9 877,725.9 877.6,734.8 878.4,734.8 878.9,733.4 879.8,733.4 880.3,742.1 881.1,742.1 881.7,740.9 882.5,740.9 883,721.3 883.9,721.3 884.4,725.9 885.2,725.9 885.7,721.6 886.5,721.6 887.1,746.7 887.9,746.7 888.4,742.1 889.2,742.1 889.8,732.5 890.6,732.5 891.1,739.1 892,739.1 892.5,721.8 893.3,721.8 893.8,720.2 894.6,720.2 895.2,716.5 896,716.5 896.5,732 897.4,732 898,729.3 899,729.3 899.6,699.5 900.5,699.5 901.1,697 902,697 902.6,701.5 903.9,701.5 904.7,725.9 905.6,725.9 906.2,735.3 907.1,735.3 907.7,719.8 908.5,719.8 909.1,711.5 909.9,711.5 910.4,727.1 911.3,727.1 911.8,721.8 912.6,721.8 913.1,717.9 913.9,717.9 914.5,742 915.3,742 915.8,732 916.7,732 917.3,725.3 918.3,725.3 918.9,729.9 919.7,729.9 920.2,723.1 921,723.1 921.6,744.4 922.4,744.4 922.9,740.1 923.8,740.1 924.5,734.2 925.4,734.2 926,754.3 926.8,754.3 927.3,767 928.1,767 928.7,764.3 929.5,764.3 930,760.4 930.9,760.4 931.5,751.2 932.5,751.2 933.1,766" stroke="#ff8000"/>
<polyline points="771.3,709.4 772.3,709.4 773,727.3 773.8,727.3 774.4,712.4 775.2,712.4 775.7,709.4 776.5,709.4 777,723.1 777.9,723.1 778.4,727.3 779.3,727.3 779.9,716.9 780.8,716.9 781.4,713.6 782.3,713.6 782.9,702.3 783.7,702.3 784.2,706 785.1,706 785.6,725.5 786.5,725.5 787.1,726.6 787.9,726.6 788.5,705.3 789.4,705.3 790,707.7 791.1,707.7 791.8,708.5 792.9,708.5 793.6,716.6 794.4,716.6 795,703.5 795.8,703.5 796.3,705.9 797.2,705.9 797.8,715.9 798.7,715.9 799.3,724.8 800.2,724.8 800.8,720.2 801.9,720.2 802.6,710.8 803.7,710.8 804.4,709.4 805.4,709.4 806.1,695.2 807.2,695.2 807.9,700.5 809,700.5 809.7,736.3 810.8,736.3 811.5,721.1 812.6,721.1 813.3,700.5 814.1,700.5 814.6,720.2 815.5,720.2 816,730.9 816.8,730.9 817.4,707.6 818.2,707.6 818.7,702.3 819.8,702.3 820.5,730.9 821.5,730.9 822.2,718.3 823.3,718.3 824,720.2 825.1,720.2 825.8,723 826.9,723 827.6,741.6 828.7,741.6 829.4,718.4 830.5,718.4 831.2,709.4 832.3,709.4 833,741.6 834.1,741.6 834.8,738.7 835.9,738.7 836.6,730.9 837.4,730.9 837.9,741.1 838.7,741.1 839.2,725.7 840,725.7 840.6,739.6 841.4,739.6 841.9,734.5 843,734.5 843.7,723 844.8,723 845.5,720.2 846.6,720.2 847.3,735.1 848.4,735.1 849.1,732.7 850.2,732.7 850.9,726.2 852,726.2 852.7,730.9 853.8,730.9 854.5,741.3 855.5,741.3 856.2,741.6 857.3,741.6 858,746.7 859.1,746.7 859.8,738.1 860.7,738.1 861.4,735.6 862.3,735.6 863,742.6 863.9,742.6 864.5,739.3 865.5,739.3 866.1,742.1 866.9,742.1 867.5,743.6 868.3,743.6 868.8,735.6 869.7,735.6 870.2,738.1 871.1,738.1 871.7,740.9 872.6,740.9 873.2,736.1 874.1,736.1 874.7,740.3 875.6,740.3 876.2,738.1 877.1,738.1 877.7,733.7 878.6,733.7 879.2,739.5 880.2,739.5 880.8,734.1 881.7,734.1 882.3,736 883.2,736 883.8,735.9 884.7,735.9 885.3,737.5 886.3,737.5 886.9,730.2 887.8,730.2 888.4,732 889.2,732 889.8,729 890.6,729 891.1,734.6 892,734.6 892.5,734 893.3,734 893.8,734 894.6,734 895.2,742.4 896,742.4 896.5,742.1 897.4,742.1 898,744.9 898.9,744.9 899.5,745.2 900.5,745.2 901.1,745.7 902,745.7 902.6,744.2 903.4,744.2 904,744.2 904.8,744.2 905.3,744.6 906.2,744.6 906.7,750.3 907.6,750.3 908.2,755.5 909.1,755.5 909.8,758.4 910.7,758.4 911.3,755.9 912.2,755.9 912.8,760.4 913.7,760.4 914.3,761.7 915.2,761.7 915.8,766" stroke="#00f050"/>
</g>
<rect x="658.5" y="471.5" width="484" height="296" fill="none" stroke="#000"/>
<rect x="1148" y="682" width="6" height="6" fill="#00f050"/>
<rect x="1148" y="697" width="6" height="6" fill="#ff8000"/>
<rect x="1148" y="712" width="6" height="6" fill="#8080ff"/>
<rect x="1148" y="727" width="6" height="6" fill="#800000"/>
<rect x="1148" y="742" width="6" height="6" fill="#8000ff"/>
<rect x="1148" y="757" width="6" height="6" fill="#000080"/>
<g filter="url(#tb)"><text x="1158.5" y="689">D6+</text><text x="1158.5" y="704">D5</text><text x="1158.5" y="719">D4</text><text x="1158.5" y="734">D3</text><text x="1158.5" y="749">D2</text><text x="1158.5" y="764">Magn</text><text x="660.5" y="465.2" font-size="13">Magnitude dB re 20uPa (smoothed  1/3 oct)</text><text x="653.5" y="772" text-anchor="end">10.0</text><text x="653.5" y="739.1" text-anchor="end">20.0</text><text x="653.5" y="706.2" text-anchor="end">30.0</text><text x="653.5" y="673.3" text-anchor="end">40.0</text><text x="653.5" y="640.4" text-anchor="end">50.0</text><text x="653.5" y="607.6" text-anchor="end">60.0</text><text x="653.5" y="574.7" text-anchor="end">70.0</text><text x="653.5" y="541.8" text-anchor="end">80.0</text><text x="653.5" y="508.9" text-anchor="end">90.0</text><text x="653.5" y="476" text-anchor="end">100.0</text><text x="658.5" y="786" text-anchor="middle">20</text><text x="722.7" y="786" text-anchor="middle">50</text><text x="771.3" y="786" text-anchor="middle">100</text><text x="819.8" y="786" text-anchor="middle">200</text><text x="884" y="786" text-anchor="middle">500</text><text x="932.6" y="786" text-anchor="middle">1k</text><text x="981.2" y="786" text-anchor="middle">2k</text><text x="1045.4" y="786" text-anchor="middle">5k</text><text x="1093.9" y="786" text-anchor="middle">10k</text><text x="1142.5" y="786" text-anchor="middle">20k</text><text x="658.5" y="801">f: 2309.7 Hz, Magn: 89.75 dB</text><text x="658.5" y="816">D2:-42.97, D3:-73.01, D4:-67.54, D5:-84.41, D6:-85.33 dB</text><text x="658.5" y="831">TB 75-1558SE THD @ 2.83V RMS</text><text x="1142" y="801" text-anchor="end">f(Hz)</text><text x="1150.5" y="484" text-anchor="middle" fill="#8b2c2c" font-size="13">S</text><text x="1150.5" y="498" text-anchor="middle" fill="#8b2c2c" font-size="13">T</text><text x="1150.5" y="512" text-anchor="middle" fill="#8b2c2c" font-size="13">E</text><text x="1150.5" y="526" text-anchor="middle" fill="#8b2c2c" font-size="13">P</text><text x="1150.5" y="540" text-anchor="middle" fill="#8b2c2c" font-size="13">S</text></g>
</svg>
</body></html>
